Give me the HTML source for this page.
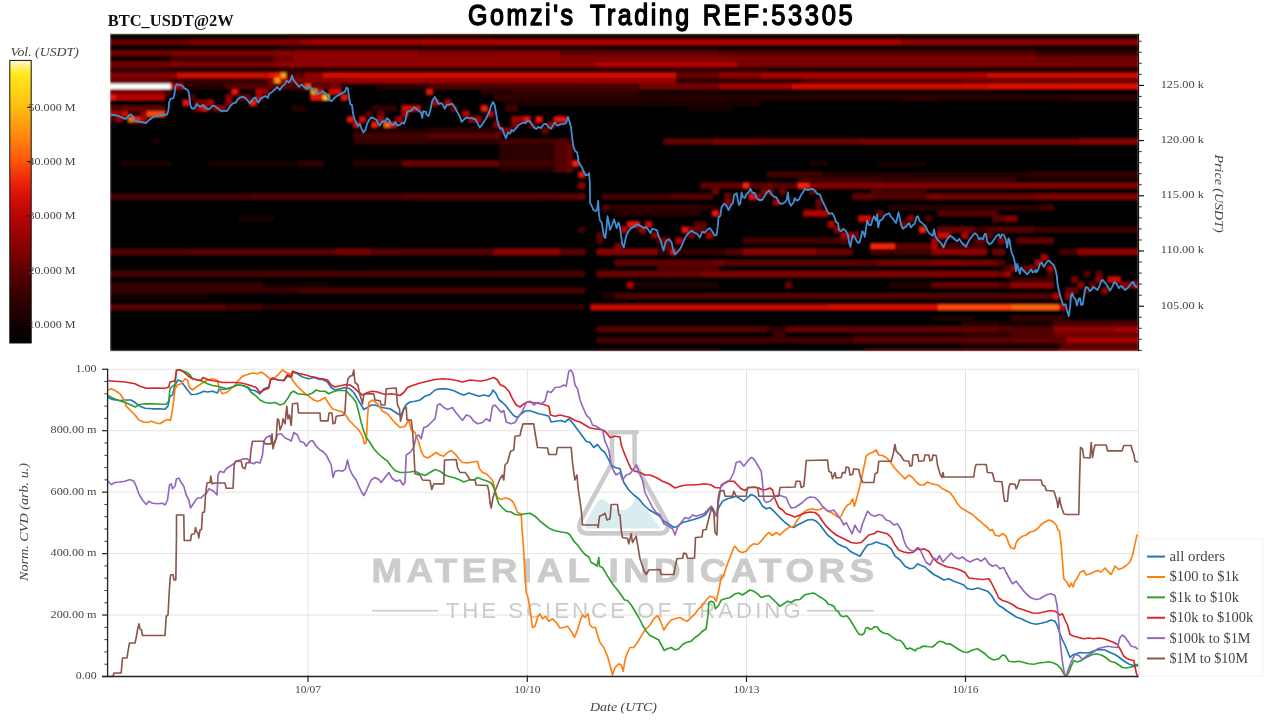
<!DOCTYPE html><html><head><meta charset="utf-8"><title>chart</title>
<style>html,body{margin:0;padding:0;background:#fff;}body{width:1280px;height:720px;overflow:hidden;font-family:"Liberation Serif",serif;}svg{display:block}text{font-family:"Liberation Serif",serif;}text.sans,.sans text{font-family:"Liberation Sans",sans-serif;}</style></head><body>
<svg width="1280" height="720" viewBox="0 0 1280 720" style="opacity:0.9999">
<defs><linearGradient id="cb" x1="0" y1="1" x2="0" y2="0">
<stop offset="0.00" stop-color="#000000"/>
<stop offset="0.06" stop-color="#120000"/>
<stop offset="0.15" stop-color="#300000"/>
<stop offset="0.25" stop-color="#5c0000"/>
<stop offset="0.35" stop-color="#8a0202"/>
<stop offset="0.45" stop-color="#b80606"/>
<stop offset="0.52" stop-color="#d81008"/>
<stop offset="0.58" stop-color="#f02808"/>
<stop offset="0.65" stop-color="#ff5a0a"/>
<stop offset="0.74" stop-color="#ff8c10"/>
<stop offset="0.84" stop-color="#ffc010"/>
<stop offset="0.95" stop-color="#ffe81a"/>
<stop offset="0.98" stop-color="#fff27a"/>
<stop offset="1.00" stop-color="#fffbe0"/>
</linearGradient>
<filter id="hb" x="-1%" y="-1%" width="102%" height="102%"><feGaussianBlur stdDeviation="1.0 0.8"/></filter>
<clipPath id="hc"><rect x="110" y="33.75" width="1028.6" height="317.5"/></clipPath>
<clipPath id="pc"><rect x="107" y="366" width="1033" height="311.5"/></clipPath>
</defs>
<rect width="1280" height="720" fill="#fff"/>
<text x="107.7" y="26" font-size="16.3" font-weight="bold" fill="#111" textLength="126" lengthAdjust="spacingAndGlyphs">BTC_USDT@2W</text>
<text class="sans" x="468.0" y="25" font-size="29.3" letter-spacing="3" fill="#000" stroke="#000" stroke-width="1.45" stroke-linejoin="round" stroke-linecap="round" textLength="107.6" lengthAdjust="spacingAndGlyphs">Gomzi's</text>
<text class="sans" x="590.0" y="25" font-size="29.3" letter-spacing="3" fill="#000" stroke="#000" stroke-width="1.45" stroke-linejoin="round" stroke-linecap="round" textLength="101.8" lengthAdjust="spacingAndGlyphs">Trading</text>
<text class="sans" x="702.8" y="25" font-size="29.3" letter-spacing="3" fill="#000" stroke="#000" stroke-width="1.45" stroke-linejoin="round" stroke-linecap="round" textLength="152.4" lengthAdjust="spacingAndGlyphs">REF:53305</text>
<g clip-path="url(#hc)"><g filter="url(#hb)">
<rect x="110.00" y="33.75" width="1028.60" height="317.50" fill="#000"/>
<rect x="286.49" y="33.70" width="206.97" height="5.75" fill="#1e0000"/>
<rect x="493.42" y="33.70" width="645.17" height="5.75" fill="#070000"/>
<rect x="110.00" y="39.35" width="79.17" height="5.62" fill="#640000"/>
<rect x="189.12" y="39.35" width="109.60" height="5.62" fill="#810000"/>
<rect x="298.67" y="39.35" width="12.22" height="5.62" fill="#920000"/>
<rect x="310.84" y="39.35" width="109.60" height="5.62" fill="#a50300"/>
<rect x="420.39" y="39.35" width="480.84" height="5.62" fill="#b00500"/>
<rect x="901.18" y="39.35" width="133.94" height="5.62" fill="#920000"/>
<rect x="1035.07" y="39.35" width="103.51" height="5.62" fill="#8b0000"/>
<rect x="110.00" y="44.87" width="170.46" height="5.62" fill="#070000"/>
<rect x="280.41" y="44.87" width="219.15" height="5.62" fill="#200000"/>
<rect x="499.50" y="44.87" width="219.15" height="5.62" fill="#180000"/>
<rect x="718.60" y="44.87" width="419.98" height="5.62" fill="#110000"/>
<rect x="110.00" y="50.39" width="60.91" height="5.62" fill="#6a0000"/>
<rect x="170.86" y="50.39" width="103.51" height="5.62" fill="#7e0000"/>
<rect x="274.32" y="50.39" width="18.31" height="5.62" fill="#880000"/>
<rect x="292.58" y="50.39" width="127.86" height="5.62" fill="#8b0000"/>
<rect x="420.39" y="50.39" width="140.03" height="5.62" fill="#810000"/>
<rect x="560.36" y="50.39" width="158.29" height="5.62" fill="#610000"/>
<rect x="718.60" y="50.39" width="316.52" height="5.62" fill="#520000"/>
<rect x="1035.07" y="50.39" width="103.51" height="5.62" fill="#340000"/>
<rect x="110.00" y="55.91" width="60.91" height="5.62" fill="#070000"/>
<rect x="170.86" y="55.91" width="103.51" height="5.62" fill="#460000"/>
<rect x="274.32" y="55.91" width="18.31" height="5.62" fill="#700000"/>
<rect x="292.58" y="55.91" width="267.83" height="5.62" fill="#920000"/>
<rect x="560.36" y="55.91" width="474.76" height="5.62" fill="#810000"/>
<rect x="1035.07" y="55.91" width="103.51" height="5.62" fill="#700000"/>
<rect x="110.00" y="61.43" width="60.91" height="5.62" fill="#700000"/>
<rect x="170.86" y="61.43" width="6.14" height="5.62" fill="#920000"/>
<rect x="176.95" y="61.43" width="97.43" height="5.62" fill="#7a0000"/>
<rect x="274.32" y="61.43" width="322.61" height="5.62" fill="#920000"/>
<rect x="596.88" y="61.43" width="140.03" height="5.62" fill="#b00500"/>
<rect x="736.86" y="61.43" width="334.78" height="5.62" fill="#7a0000"/>
<rect x="1071.59" y="61.43" width="67.00" height="5.62" fill="#770000"/>
<rect x="110.00" y="66.95" width="60.91" height="5.62" fill="#340000"/>
<rect x="170.86" y="66.95" width="109.60" height="5.62" fill="#1e0000"/>
<rect x="280.41" y="66.95" width="140.03" height="5.62" fill="#260000"/>
<rect x="420.39" y="66.95" width="255.66" height="5.62" fill="#2c0000"/>
<rect x="676.00" y="66.95" width="91.34" height="5.62" fill="#340000"/>
<rect x="767.29" y="66.95" width="371.30" height="5.62" fill="#160000"/>
<rect x="110.00" y="72.47" width="60.91" height="5.62" fill="#810000"/>
<rect x="170.86" y="72.47" width="6.14" height="5.62" fill="#920000"/>
<rect x="176.95" y="72.47" width="91.34" height="5.62" fill="#ca0903"/>
<rect x="268.24" y="72.47" width="6.14" height="5.62" fill="#e41208"/>
<rect x="274.32" y="72.47" width="6.14" height="5.62" fill="#f02208"/>
<rect x="280.41" y="72.47" width="6.14" height="5.62" fill="#ff9a10"/>
<rect x="286.49" y="72.47" width="18.31" height="5.62" fill="#520000"/>
<rect x="304.75" y="72.47" width="18.31" height="5.62" fill="#920000"/>
<rect x="323.01" y="72.47" width="353.04" height="5.62" fill="#ca0903"/>
<rect x="676.00" y="72.47" width="42.65" height="5.62" fill="#670000"/>
<rect x="718.60" y="72.47" width="42.65" height="5.62" fill="#920000"/>
<rect x="761.20" y="72.47" width="225.23" height="5.62" fill="#ad0400"/>
<rect x="986.38" y="72.47" width="152.20" height="5.62" fill="#c50802"/>
<rect x="110.00" y="77.99" width="60.91" height="5.62" fill="#6a0000"/>
<rect x="170.86" y="77.99" width="97.43" height="5.62" fill="#3a0000"/>
<rect x="268.24" y="77.99" width="6.14" height="5.62" fill="#920000"/>
<rect x="274.32" y="77.99" width="6.14" height="5.62" fill="#ff9a10"/>
<rect x="280.41" y="77.99" width="6.14" height="5.62" fill="#b80600"/>
<rect x="286.49" y="77.99" width="60.91" height="5.62" fill="#880000"/>
<rect x="347.35" y="77.99" width="6.14" height="5.62" fill="#9a0100"/>
<rect x="353.44" y="77.99" width="73.08" height="5.62" fill="#9d0200"/>
<rect x="426.47" y="77.99" width="249.58" height="5.62" fill="#9a0100"/>
<rect x="676.00" y="77.99" width="127.86" height="5.62" fill="#340000"/>
<rect x="803.80" y="77.99" width="158.29" height="5.62" fill="#5b0000"/>
<rect x="962.04" y="77.99" width="176.54" height="5.62" fill="#700000"/>
<rect x="110.00" y="83.51" width="60.91" height="5.62" fill="#ffffff"/>
<rect x="170.86" y="83.51" width="12.22" height="5.62" fill="#b80600"/>
<rect x="183.03" y="83.51" width="42.65" height="5.62" fill="#260000"/>
<rect x="225.63" y="83.51" width="42.65" height="5.62" fill="#520000"/>
<rect x="268.24" y="83.51" width="6.14" height="5.62" fill="#770000"/>
<rect x="274.32" y="83.51" width="30.48" height="5.62" fill="#520000"/>
<rect x="304.75" y="83.51" width="6.14" height="5.62" fill="#ff4a08"/>
<rect x="310.84" y="83.51" width="18.31" height="5.62" fill="#5b0000"/>
<rect x="329.10" y="83.51" width="12.22" height="5.62" fill="#770000"/>
<rect x="341.27" y="83.51" width="36.57" height="5.62" fill="#110000"/>
<rect x="377.78" y="83.51" width="48.74" height="5.62" fill="#260000"/>
<rect x="426.47" y="83.51" width="158.29" height="5.62" fill="#490000"/>
<rect x="584.71" y="83.51" width="54.82" height="5.62" fill="#4c0000"/>
<rect x="639.48" y="83.51" width="79.17" height="5.62" fill="#770000"/>
<rect x="718.60" y="83.51" width="73.08" height="5.62" fill="#a50300"/>
<rect x="791.63" y="83.51" width="194.80" height="5.62" fill="#ce0a04"/>
<rect x="986.38" y="83.51" width="152.20" height="5.62" fill="#db0f06"/>
<rect x="110.00" y="89.03" width="54.82" height="5.62" fill="#810000"/>
<rect x="164.77" y="89.03" width="6.14" height="5.62" fill="#520000"/>
<rect x="231.72" y="89.03" width="6.14" height="5.62" fill="#e41208"/>
<rect x="256.06" y="89.03" width="6.14" height="5.62" fill="#b80600"/>
<rect x="262.15" y="89.03" width="6.14" height="5.62" fill="#920000"/>
<rect x="310.84" y="89.03" width="6.14" height="5.62" fill="#ff9a10"/>
<rect x="316.92" y="89.03" width="6.14" height="5.62" fill="#ce0a04"/>
<rect x="329.10" y="89.03" width="12.22" height="5.62" fill="#ce0a04"/>
<rect x="426.47" y="89.03" width="6.14" height="5.62" fill="#e41208"/>
<rect x="481.25" y="89.03" width="30.48" height="5.62" fill="#260000"/>
<rect x="511.68" y="89.03" width="127.86" height="5.62" fill="#340000"/>
<rect x="639.48" y="89.03" width="79.17" height="5.62" fill="#180000"/>
<rect x="718.60" y="89.03" width="304.35" height="5.62" fill="#0c0000"/>
<rect x="110.00" y="94.55" width="6.14" height="5.62" fill="#e41208"/>
<rect x="116.09" y="94.55" width="48.74" height="5.62" fill="#b80600"/>
<rect x="189.12" y="94.55" width="6.14" height="5.62" fill="#520000"/>
<rect x="225.63" y="94.55" width="6.14" height="5.62" fill="#920000"/>
<rect x="237.81" y="94.55" width="12.22" height="5.62" fill="#700000"/>
<rect x="256.06" y="94.55" width="6.14" height="5.62" fill="#b80600"/>
<rect x="310.84" y="94.55" width="12.22" height="5.62" fill="#e41208"/>
<rect x="323.01" y="94.55" width="6.14" height="5.62" fill="#ffc820"/>
<rect x="341.27" y="94.55" width="6.14" height="5.62" fill="#e41208"/>
<rect x="493.42" y="94.55" width="24.39" height="5.62" fill="#340000"/>
<rect x="517.76" y="94.55" width="121.77" height="5.62" fill="#2c0000"/>
<rect x="639.48" y="94.55" width="261.75" height="5.62" fill="#260000"/>
<rect x="901.18" y="94.55" width="36.57" height="5.62" fill="#340000"/>
<rect x="937.70" y="94.55" width="127.86" height="5.62" fill="#260000"/>
<rect x="1065.50" y="94.55" width="73.08" height="5.62" fill="#2e0000"/>
<rect x="183.03" y="100.07" width="6.14" height="5.62" fill="#e41208"/>
<rect x="195.20" y="100.07" width="12.22" height="5.62" fill="#810000"/>
<rect x="207.38" y="100.07" width="6.14" height="5.62" fill="#b80600"/>
<rect x="225.63" y="100.07" width="6.14" height="5.62" fill="#920000"/>
<rect x="249.98" y="100.07" width="6.14" height="5.62" fill="#f02208"/>
<rect x="432.56" y="100.07" width="6.14" height="5.62" fill="#b80600"/>
<rect x="444.73" y="100.07" width="6.14" height="5.62" fill="#b80600"/>
<rect x="505.59" y="100.07" width="133.94" height="5.62" fill="#200000"/>
<rect x="639.48" y="100.07" width="121.77" height="5.62" fill="#1e0000"/>
<rect x="110.00" y="105.59" width="12.22" height="5.62" fill="#520000"/>
<rect x="122.17" y="105.59" width="6.14" height="5.62" fill="#700000"/>
<rect x="128.26" y="105.59" width="36.57" height="5.62" fill="#610000"/>
<rect x="195.20" y="105.59" width="6.14" height="5.62" fill="#920000"/>
<rect x="201.29" y="105.59" width="6.14" height="5.62" fill="#e41208"/>
<rect x="213.46" y="105.59" width="12.22" height="5.62" fill="#920000"/>
<rect x="292.58" y="105.59" width="12.22" height="5.62" fill="#260000"/>
<rect x="371.70" y="105.59" width="24.39" height="5.62" fill="#340000"/>
<rect x="402.13" y="105.59" width="18.31" height="5.62" fill="#ce0a04"/>
<rect x="450.82" y="105.59" width="6.14" height="5.62" fill="#700000"/>
<rect x="481.25" y="105.59" width="6.14" height="5.62" fill="#f02208"/>
<rect x="505.59" y="105.59" width="12.22" height="5.62" fill="#430000"/>
<rect x="688.17" y="105.59" width="42.65" height="5.62" fill="#180000"/>
<rect x="110.00" y="111.11" width="12.22" height="5.62" fill="#a50300"/>
<rect x="122.17" y="111.11" width="6.14" height="5.62" fill="#ce0a04"/>
<rect x="128.26" y="111.11" width="12.22" height="5.62" fill="#340000"/>
<rect x="140.43" y="111.11" width="6.14" height="5.62" fill="#920000"/>
<rect x="146.52" y="111.11" width="18.31" height="5.62" fill="#ff4a08"/>
<rect x="365.61" y="111.11" width="6.14" height="5.62" fill="#520000"/>
<rect x="377.78" y="111.11" width="6.14" height="5.62" fill="#700000"/>
<rect x="402.13" y="111.11" width="6.14" height="5.62" fill="#b80600"/>
<rect x="462.99" y="111.11" width="6.14" height="5.62" fill="#b80600"/>
<rect x="487.33" y="111.11" width="6.14" height="5.62" fill="#b80600"/>
<rect x="110.00" y="116.63" width="6.14" height="5.62" fill="#340000"/>
<rect x="116.09" y="116.63" width="6.14" height="5.62" fill="#920000"/>
<rect x="128.26" y="116.63" width="6.14" height="5.62" fill="#ff6a0c"/>
<rect x="134.34" y="116.63" width="6.14" height="5.62" fill="#f02208"/>
<rect x="140.43" y="116.63" width="6.14" height="5.62" fill="#b80600"/>
<rect x="347.35" y="116.63" width="6.14" height="5.62" fill="#e41208"/>
<rect x="359.53" y="116.63" width="6.14" height="5.62" fill="#ce0a04"/>
<rect x="377.78" y="116.63" width="6.14" height="5.62" fill="#b80600"/>
<rect x="396.04" y="116.63" width="6.14" height="5.62" fill="#a50300"/>
<rect x="469.07" y="116.63" width="12.22" height="5.62" fill="#a50300"/>
<rect x="511.68" y="116.63" width="12.22" height="5.62" fill="#a50300"/>
<rect x="523.85" y="116.63" width="6.14" height="5.62" fill="#e41208"/>
<rect x="536.02" y="116.63" width="6.14" height="5.62" fill="#e41208"/>
<rect x="554.28" y="116.63" width="12.22" height="5.62" fill="#e41208"/>
<rect x="140.43" y="122.15" width="6.14" height="5.62" fill="#260000"/>
<rect x="353.44" y="122.15" width="6.14" height="5.62" fill="#ce0a04"/>
<rect x="371.70" y="122.15" width="6.14" height="5.62" fill="#f02208"/>
<rect x="383.87" y="122.15" width="6.14" height="5.62" fill="#ff6a0c"/>
<rect x="389.96" y="122.15" width="6.14" height="5.62" fill="#e41208"/>
<rect x="493.42" y="122.15" width="6.14" height="5.62" fill="#920000"/>
<rect x="511.68" y="122.15" width="6.14" height="5.62" fill="#810000"/>
<rect x="529.93" y="122.15" width="6.14" height="5.62" fill="#700000"/>
<rect x="548.19" y="122.15" width="6.14" height="5.62" fill="#a50300"/>
<rect x="353.44" y="127.67" width="73.08" height="5.62" fill="#1e0000"/>
<rect x="426.47" y="127.67" width="73.08" height="5.62" fill="#260000"/>
<rect x="499.50" y="127.67" width="12.22" height="5.62" fill="#810000"/>
<rect x="542.11" y="127.67" width="6.14" height="5.62" fill="#700000"/>
<rect x="353.44" y="133.19" width="73.08" height="5.62" fill="#430000"/>
<rect x="426.47" y="133.19" width="67.00" height="5.62" fill="#5b0000"/>
<rect x="493.42" y="133.19" width="6.14" height="5.62" fill="#700000"/>
<rect x="152.60" y="138.71" width="6.14" height="5.62" fill="#1e0000"/>
<rect x="353.44" y="138.71" width="73.08" height="5.62" fill="#340000"/>
<rect x="426.47" y="138.71" width="73.08" height="5.62" fill="#2e0000"/>
<rect x="499.50" y="138.71" width="54.82" height="5.62" fill="#430000"/>
<rect x="554.28" y="138.71" width="12.22" height="5.62" fill="#520000"/>
<rect x="566.45" y="138.71" width="6.14" height="5.62" fill="#430000"/>
<rect x="663.83" y="138.71" width="48.74" height="5.62" fill="#610000"/>
<rect x="712.51" y="138.71" width="48.74" height="5.62" fill="#770000"/>
<rect x="761.20" y="138.71" width="97.43" height="5.62" fill="#6a0000"/>
<rect x="858.58" y="138.71" width="219.15" height="5.62" fill="#770000"/>
<rect x="1077.67" y="138.71" width="60.91" height="5.62" fill="#840000"/>
<rect x="499.50" y="144.23" width="54.82" height="5.62" fill="#2e0000"/>
<rect x="554.28" y="144.23" width="12.22" height="5.62" fill="#520000"/>
<rect x="566.45" y="144.23" width="6.14" height="5.62" fill="#700000"/>
<rect x="499.50" y="149.75" width="54.82" height="5.62" fill="#2e0000"/>
<rect x="554.28" y="149.75" width="12.22" height="5.62" fill="#520000"/>
<rect x="566.45" y="149.75" width="6.14" height="5.62" fill="#700000"/>
<rect x="499.50" y="155.27" width="54.82" height="5.62" fill="#2e0000"/>
<rect x="554.28" y="155.27" width="12.22" height="5.62" fill="#520000"/>
<rect x="566.45" y="155.27" width="6.14" height="5.62" fill="#700000"/>
<rect x="122.17" y="160.79" width="48.74" height="5.62" fill="#1e0000"/>
<rect x="207.38" y="160.79" width="91.34" height="5.62" fill="#180000"/>
<rect x="298.67" y="160.79" width="24.39" height="5.62" fill="#2e0000"/>
<rect x="353.44" y="160.79" width="48.74" height="5.62" fill="#260000"/>
<rect x="402.13" y="160.79" width="97.43" height="5.62" fill="#6a0000"/>
<rect x="499.50" y="160.79" width="54.82" height="5.62" fill="#430000"/>
<rect x="554.28" y="160.79" width="12.22" height="5.62" fill="#520000"/>
<rect x="566.45" y="160.79" width="6.14" height="5.62" fill="#700000"/>
<rect x="572.54" y="160.79" width="6.14" height="5.62" fill="#f02208"/>
<rect x="809.89" y="160.79" width="18.31" height="5.62" fill="#1e0000"/>
<rect x="876.84" y="160.79" width="48.74" height="5.62" fill="#180000"/>
<rect x="499.50" y="166.31" width="54.82" height="5.62" fill="#260000"/>
<rect x="554.28" y="166.31" width="12.22" height="5.62" fill="#520000"/>
<rect x="566.45" y="166.31" width="6.14" height="5.62" fill="#700000"/>
<rect x="578.62" y="171.83" width="6.14" height="5.62" fill="#e41208"/>
<rect x="767.29" y="171.83" width="54.82" height="5.62" fill="#430000"/>
<rect x="822.06" y="171.83" width="206.97" height="5.62" fill="#200000"/>
<rect x="1028.99" y="171.83" width="109.60" height="5.62" fill="#340000"/>
<rect x="797.72" y="177.35" width="85.25" height="5.62" fill="#430000"/>
<rect x="882.92" y="177.35" width="133.94" height="5.62" fill="#340000"/>
<rect x="1016.81" y="177.35" width="121.77" height="5.62" fill="#130000"/>
<rect x="578.62" y="182.87" width="6.14" height="5.62" fill="#920000"/>
<rect x="700.34" y="182.87" width="42.65" height="5.62" fill="#610000"/>
<rect x="742.94" y="182.87" width="6.14" height="5.62" fill="#f02208"/>
<rect x="749.03" y="182.87" width="18.31" height="5.62" fill="#520000"/>
<rect x="767.29" y="182.87" width="6.14" height="5.62" fill="#700000"/>
<rect x="773.37" y="182.87" width="24.39" height="5.62" fill="#520000"/>
<rect x="797.72" y="182.87" width="12.22" height="5.62" fill="#f02208"/>
<rect x="809.89" y="182.87" width="328.69" height="5.62" fill="#810000"/>
<rect x="712.51" y="188.39" width="6.14" height="5.62" fill="#700000"/>
<rect x="761.20" y="188.39" width="12.22" height="5.62" fill="#810000"/>
<rect x="779.46" y="188.39" width="6.14" height="5.62" fill="#700000"/>
<rect x="809.89" y="188.39" width="6.14" height="5.62" fill="#700000"/>
<rect x="870.75" y="188.39" width="12.22" height="5.62" fill="#520000"/>
<rect x="882.92" y="188.39" width="42.65" height="5.62" fill="#430000"/>
<rect x="110.00" y="193.91" width="140.03" height="5.62" fill="#430000"/>
<rect x="249.98" y="193.91" width="152.20" height="5.62" fill="#4c0000"/>
<rect x="402.13" y="193.91" width="152.20" height="5.62" fill="#580000"/>
<rect x="554.28" y="193.91" width="24.39" height="5.62" fill="#5b0000"/>
<rect x="578.62" y="193.91" width="6.14" height="5.62" fill="#700000"/>
<rect x="602.97" y="193.91" width="67.00" height="5.62" fill="#430000"/>
<rect x="669.91" y="193.91" width="42.65" height="5.62" fill="#520000"/>
<rect x="724.69" y="193.91" width="6.14" height="5.62" fill="#700000"/>
<rect x="749.03" y="193.91" width="6.14" height="5.62" fill="#e41208"/>
<rect x="755.12" y="193.91" width="6.14" height="5.62" fill="#920000"/>
<rect x="852.49" y="193.91" width="24.39" height="5.62" fill="#610000"/>
<rect x="876.84" y="193.91" width="48.74" height="5.62" fill="#520000"/>
<rect x="925.52" y="193.91" width="6.14" height="5.62" fill="#700000"/>
<rect x="931.61" y="193.91" width="12.22" height="5.62" fill="#810000"/>
<rect x="943.78" y="193.91" width="91.34" height="5.62" fill="#700000"/>
<rect x="1035.07" y="193.91" width="103.51" height="5.62" fill="#810000"/>
<rect x="724.69" y="199.43" width="6.14" height="5.62" fill="#920000"/>
<rect x="773.37" y="199.43" width="6.14" height="5.62" fill="#a50300"/>
<rect x="815.98" y="199.43" width="6.14" height="5.62" fill="#700000"/>
<rect x="602.97" y="204.95" width="6.14" height="5.62" fill="#520000"/>
<rect x="609.05" y="204.95" width="6.14" height="5.62" fill="#260000"/>
<rect x="615.14" y="204.95" width="85.25" height="5.62" fill="#340000"/>
<rect x="700.34" y="204.95" width="18.31" height="5.62" fill="#260000"/>
<rect x="815.98" y="204.95" width="6.14" height="5.62" fill="#520000"/>
<rect x="889.01" y="204.95" width="146.11" height="5.62" fill="#2c0000"/>
<rect x="1035.07" y="204.95" width="6.14" height="5.62" fill="#290000"/>
<rect x="1041.16" y="204.95" width="12.22" height="5.62" fill="#430000"/>
<rect x="615.14" y="210.47" width="85.25" height="5.62" fill="#260000"/>
<rect x="712.51" y="210.47" width="6.14" height="5.62" fill="#e41208"/>
<rect x="803.80" y="210.47" width="24.39" height="5.62" fill="#b80600"/>
<rect x="876.84" y="210.47" width="6.14" height="5.62" fill="#700000"/>
<rect x="937.70" y="210.47" width="60.91" height="5.62" fill="#520000"/>
<rect x="237.81" y="215.99" width="36.57" height="5.62" fill="#180000"/>
<rect x="858.58" y="215.99" width="12.22" height="5.62" fill="#ce0a04"/>
<rect x="907.27" y="215.99" width="6.14" height="5.62" fill="#920000"/>
<rect x="925.52" y="215.99" width="6.14" height="5.62" fill="#520000"/>
<rect x="992.47" y="215.99" width="12.22" height="5.62" fill="#610000"/>
<rect x="1004.64" y="215.99" width="12.22" height="5.62" fill="#810000"/>
<rect x="627.31" y="221.51" width="12.22" height="5.62" fill="#e41208"/>
<rect x="645.57" y="221.51" width="6.14" height="5.62" fill="#ce0a04"/>
<rect x="694.26" y="221.51" width="12.22" height="5.62" fill="#520000"/>
<rect x="828.15" y="221.51" width="6.14" height="5.62" fill="#b80600"/>
<rect x="901.18" y="221.51" width="6.14" height="5.62" fill="#810000"/>
<rect x="578.62" y="227.03" width="6.14" height="5.62" fill="#430000"/>
<rect x="621.22" y="227.03" width="6.14" height="5.62" fill="#b80600"/>
<rect x="639.48" y="227.03" width="6.14" height="5.62" fill="#a50300"/>
<rect x="682.08" y="227.03" width="6.14" height="5.62" fill="#e41208"/>
<rect x="688.17" y="227.03" width="18.31" height="5.62" fill="#700000"/>
<rect x="834.23" y="227.03" width="6.14" height="5.62" fill="#920000"/>
<rect x="919.44" y="227.03" width="6.14" height="5.62" fill="#f02208"/>
<rect x="937.70" y="227.03" width="36.57" height="5.62" fill="#700000"/>
<rect x="974.21" y="227.03" width="12.22" height="5.62" fill="#3a0000"/>
<rect x="986.38" y="227.03" width="48.74" height="5.62" fill="#520000"/>
<rect x="1035.07" y="227.03" width="103.51" height="5.62" fill="#3a0000"/>
<rect x="596.88" y="232.55" width="6.14" height="5.62" fill="#610000"/>
<rect x="651.65" y="232.55" width="6.14" height="5.62" fill="#920000"/>
<rect x="688.17" y="232.55" width="6.14" height="5.62" fill="#700000"/>
<rect x="706.43" y="232.55" width="6.14" height="5.62" fill="#b80600"/>
<rect x="840.32" y="232.55" width="12.22" height="5.62" fill="#a50300"/>
<rect x="852.49" y="232.55" width="6.14" height="5.62" fill="#810000"/>
<rect x="937.70" y="232.55" width="12.22" height="5.62" fill="#ce0a04"/>
<rect x="962.04" y="232.55" width="6.14" height="5.62" fill="#b80600"/>
<rect x="986.38" y="232.55" width="6.14" height="5.62" fill="#610000"/>
<rect x="596.88" y="238.07" width="6.14" height="5.62" fill="#520000"/>
<rect x="657.74" y="238.07" width="6.14" height="5.62" fill="#700000"/>
<rect x="663.83" y="238.07" width="6.14" height="5.62" fill="#810000"/>
<rect x="676.00" y="238.07" width="6.14" height="5.62" fill="#b80600"/>
<rect x="742.94" y="238.07" width="97.43" height="5.62" fill="#430000"/>
<rect x="840.32" y="238.07" width="6.14" height="5.62" fill="#610000"/>
<rect x="846.41" y="238.07" width="6.14" height="5.62" fill="#430000"/>
<rect x="931.61" y="238.07" width="6.14" height="5.62" fill="#a50300"/>
<rect x="974.21" y="238.07" width="12.22" height="5.62" fill="#610000"/>
<rect x="998.56" y="238.07" width="6.14" height="5.62" fill="#920000"/>
<rect x="1016.81" y="238.07" width="36.57" height="5.62" fill="#610000"/>
<rect x="615.14" y="243.59" width="6.14" height="5.62" fill="#810000"/>
<rect x="663.83" y="243.59" width="6.14" height="5.62" fill="#610000"/>
<rect x="870.75" y="243.59" width="24.39" height="5.62" fill="#f02208"/>
<rect x="895.09" y="243.59" width="36.57" height="5.62" fill="#610000"/>
<rect x="931.61" y="243.59" width="6.14" height="5.62" fill="#b80600"/>
<rect x="937.70" y="243.59" width="48.74" height="5.62" fill="#430000"/>
<rect x="110.00" y="249.11" width="79.17" height="5.62" fill="#520000"/>
<rect x="189.12" y="249.11" width="146.11" height="5.62" fill="#5b0000"/>
<rect x="335.18" y="249.11" width="36.57" height="5.62" fill="#770000"/>
<rect x="371.70" y="249.11" width="30.48" height="5.62" fill="#5b0000"/>
<rect x="402.13" y="249.11" width="91.34" height="5.62" fill="#580000"/>
<rect x="493.42" y="249.11" width="67.00" height="5.62" fill="#920000"/>
<rect x="560.36" y="249.11" width="18.31" height="5.62" fill="#5b0000"/>
<rect x="578.62" y="249.11" width="6.14" height="5.62" fill="#610000"/>
<rect x="596.88" y="249.11" width="60.91" height="5.62" fill="#880000"/>
<rect x="657.74" y="249.11" width="12.22" height="5.62" fill="#340000"/>
<rect x="669.91" y="249.11" width="6.14" height="5.62" fill="#ce0a04"/>
<rect x="676.00" y="249.11" width="48.74" height="5.62" fill="#340000"/>
<rect x="724.69" y="249.11" width="18.31" height="5.62" fill="#520000"/>
<rect x="742.94" y="249.11" width="73.08" height="5.62" fill="#920000"/>
<rect x="815.98" y="249.11" width="36.57" height="5.62" fill="#700000"/>
<rect x="870.75" y="249.11" width="60.91" height="5.62" fill="#430000"/>
<rect x="931.61" y="249.11" width="54.82" height="5.62" fill="#920000"/>
<rect x="992.47" y="249.11" width="12.22" height="5.62" fill="#700000"/>
<rect x="1059.42" y="249.11" width="18.31" height="5.62" fill="#430000"/>
<rect x="1077.67" y="249.11" width="60.91" height="5.62" fill="#920000"/>
<rect x="1041.16" y="254.63" width="6.14" height="5.62" fill="#b80600"/>
<rect x="615.14" y="260.15" width="97.43" height="5.62" fill="#610000"/>
<rect x="712.51" y="260.15" width="12.22" height="5.62" fill="#700000"/>
<rect x="724.69" y="260.15" width="152.20" height="5.62" fill="#580000"/>
<rect x="876.84" y="260.15" width="54.82" height="5.62" fill="#700000"/>
<rect x="931.61" y="260.15" width="30.48" height="5.62" fill="#810000"/>
<rect x="962.04" y="260.15" width="36.57" height="5.62" fill="#700000"/>
<rect x="998.56" y="260.15" width="6.14" height="5.62" fill="#520000"/>
<rect x="1035.07" y="260.15" width="6.14" height="5.62" fill="#b80600"/>
<rect x="657.74" y="265.67" width="60.91" height="5.62" fill="#520000"/>
<rect x="1004.64" y="265.67" width="6.14" height="5.62" fill="#520000"/>
<rect x="1010.73" y="265.67" width="6.14" height="5.62" fill="#920000"/>
<rect x="1022.90" y="265.67" width="12.22" height="5.62" fill="#700000"/>
<rect x="1047.24" y="265.67" width="6.14" height="5.62" fill="#a50300"/>
<rect x="110.00" y="271.19" width="474.76" height="5.62" fill="#460000"/>
<rect x="596.88" y="271.19" width="103.51" height="5.62" fill="#6a0000"/>
<rect x="700.34" y="271.19" width="298.26" height="5.62" fill="#810000"/>
<rect x="998.56" y="271.19" width="6.14" height="5.62" fill="#700000"/>
<rect x="1004.64" y="271.19" width="6.14" height="5.62" fill="#a50300"/>
<rect x="1047.24" y="271.19" width="6.14" height="5.62" fill="#520000"/>
<rect x="1083.76" y="271.19" width="6.14" height="5.62" fill="#520000"/>
<rect x="1095.93" y="271.19" width="6.14" height="5.62" fill="#610000"/>
<rect x="1010.73" y="276.71" width="42.65" height="5.62" fill="#340000"/>
<rect x="1071.59" y="276.71" width="6.14" height="5.62" fill="#810000"/>
<rect x="1095.93" y="276.71" width="6.14" height="5.62" fill="#920000"/>
<rect x="1108.10" y="276.71" width="12.22" height="5.62" fill="#ce0a04"/>
<rect x="110.00" y="282.23" width="152.20" height="5.62" fill="#340000"/>
<rect x="262.15" y="282.23" width="67.00" height="5.62" fill="#130000"/>
<rect x="627.31" y="282.23" width="6.14" height="5.62" fill="#b80600"/>
<rect x="633.40" y="282.23" width="85.25" height="5.62" fill="#1e0000"/>
<rect x="785.55" y="282.23" width="6.14" height="5.62" fill="#700000"/>
<rect x="889.01" y="282.23" width="42.65" height="5.62" fill="#230000"/>
<rect x="931.61" y="282.23" width="67.00" height="5.62" fill="#640000"/>
<rect x="998.56" y="282.23" width="12.22" height="5.62" fill="#520000"/>
<rect x="1010.73" y="282.23" width="42.65" height="5.62" fill="#920000"/>
<rect x="1077.67" y="282.23" width="6.14" height="5.62" fill="#920000"/>
<rect x="1089.85" y="282.23" width="6.14" height="5.62" fill="#700000"/>
<rect x="1120.28" y="282.23" width="12.22" height="5.62" fill="#920000"/>
<rect x="1132.45" y="282.23" width="6.14" height="5.62" fill="#a50300"/>
<rect x="110.00" y="287.75" width="188.72" height="5.62" fill="#340000"/>
<rect x="298.67" y="287.75" width="286.09" height="5.62" fill="#460000"/>
<rect x="1065.50" y="287.75" width="12.22" height="5.62" fill="#700000"/>
<rect x="1083.76" y="287.75" width="6.14" height="5.62" fill="#520000"/>
<rect x="1102.02" y="287.75" width="6.14" height="5.62" fill="#920000"/>
<rect x="110.00" y="293.27" width="97.43" height="5.62" fill="#180000"/>
<rect x="602.97" y="293.27" width="12.22" height="5.62" fill="#260000"/>
<rect x="615.14" y="293.27" width="85.25" height="5.62" fill="#4c0000"/>
<rect x="700.34" y="293.27" width="353.04" height="5.62" fill="#520000"/>
<rect x="1053.33" y="293.27" width="6.14" height="5.62" fill="#b80600"/>
<rect x="1065.50" y="293.27" width="6.14" height="5.62" fill="#a50300"/>
<rect x="110.00" y="304.31" width="115.68" height="5.62" fill="#580000"/>
<rect x="225.63" y="304.31" width="36.57" height="5.62" fill="#430000"/>
<rect x="262.15" y="304.31" width="322.61" height="5.62" fill="#2e0000"/>
<rect x="590.79" y="304.31" width="237.40" height="5.62" fill="#c10802"/>
<rect x="828.15" y="304.31" width="109.60" height="5.62" fill="#d20c05"/>
<rect x="937.70" y="304.31" width="73.08" height="5.62" fill="#ff4a08"/>
<rect x="1010.73" y="304.31" width="48.74" height="5.62" fill="#ff640b"/>
<rect x="1059.42" y="304.31" width="6.14" height="5.62" fill="#b80600"/>
<rect x="931.61" y="315.35" width="42.65" height="5.62" fill="#180000"/>
<rect x="1010.73" y="315.35" width="54.82" height="5.62" fill="#340000"/>
<rect x="962.04" y="320.87" width="36.57" height="5.62" fill="#260000"/>
<rect x="998.56" y="320.87" width="54.82" height="5.62" fill="#180000"/>
<rect x="1053.33" y="320.87" width="85.25" height="5.62" fill="#4c0000"/>
<rect x="596.88" y="326.39" width="170.46" height="5.62" fill="#520000"/>
<rect x="767.29" y="326.39" width="18.31" height="5.62" fill="#340000"/>
<rect x="785.55" y="326.39" width="213.06" height="5.62" fill="#610000"/>
<rect x="998.56" y="326.39" width="54.82" height="5.62" fill="#520000"/>
<rect x="1053.33" y="326.39" width="60.91" height="5.62" fill="#920000"/>
<rect x="1114.19" y="326.39" width="24.39" height="5.62" fill="#a50300"/>
<rect x="773.37" y="331.91" width="12.22" height="5.62" fill="#430000"/>
<rect x="852.49" y="331.91" width="109.60" height="5.62" fill="#230000"/>
<rect x="962.04" y="331.91" width="48.74" height="5.62" fill="#340000"/>
<rect x="1010.73" y="331.91" width="42.65" height="5.62" fill="#520000"/>
<rect x="1053.33" y="331.91" width="85.25" height="5.62" fill="#700000"/>
<rect x="596.88" y="337.43" width="255.66" height="5.62" fill="#430000"/>
<rect x="852.49" y="337.43" width="158.29" height="5.62" fill="#5b0000"/>
<rect x="1010.73" y="337.43" width="54.82" height="5.62" fill="#610000"/>
<rect x="1065.50" y="337.43" width="73.08" height="5.62" fill="#a50300"/>
<rect x="962.04" y="342.95" width="97.43" height="5.62" fill="#180000"/>
<rect x="1059.42" y="342.95" width="79.17" height="5.62" fill="#520000"/>
<rect x="596.88" y="348.47" width="121.77" height="2.83" fill="#260000"/>
<rect x="864.66" y="348.47" width="97.43" height="2.83" fill="#490000"/>
<rect x="962.04" y="348.47" width="97.43" height="2.83" fill="#520000"/>
<rect x="1059.42" y="348.47" width="79.17" height="2.83" fill="#810000"/>
</g>
<path d="M107.9,113.8 L110.0,114.4 L113.5,115.0 L117.2,115.6 L121.0,117.2 L124.8,118.8 L127.2,117.8 L129.1,115.0 L131.0,114.4 L132.9,116.9 L134.8,120.6 L137.2,121.5 L140.4,121.9 L143.5,122.5 L146.0,123.1 L148.5,120.6 L151.0,118.8 L152.9,116.9 L156.0,116.2 L159.8,115.6 L163.5,115.0 L167.2,114.4 L168.5,110.0 L169.1,102.5 L170.4,98.8 L173.5,98.1 L174.5,93.8 L175.4,86.9 L176.6,84.4 L179.8,84.8 L182.2,85.6 L184.1,88.1 L186.6,89.4 L188.5,91.2 L189.5,97.5 L190.4,105.0 L191.6,108.1 L193.5,108.8 L195.4,106.9 L196.6,103.8 L198.5,105.6 L200.4,106.9 L202.9,105.0 L205.4,107.5 L207.9,109.4 L209.8,108.8 L212.2,106.2 L214.1,105.6 L216.6,107.5 L219.1,109.4 L221.6,111.2 L224.1,110.6 L226.6,111.2 L229.1,108.1 L231.0,105.0 L233.5,103.1 L236.0,102.5 L237.2,100.0 L239.8,97.5 L242.2,96.9 L244.8,97.5 L247.2,100.0 L249.8,103.1 L251.6,101.2 L253.5,98.1 L255.4,97.5 L257.2,101.2 L258.5,102.5 L260.4,98.8 L263.5,96.9 L266.0,96.2 L266.0,96.2 L267.9,98.1 L269.1,93.8 L272.2,91.9 L275.4,88.8 L277.2,86.9 L279.8,90.0 L282.2,86.2 L284.8,84.4 L286.6,80.6 L289.1,82.5 L291.0,79.4 L292.0,75.6 L293.5,80.0 L296.0,83.1 L299.1,86.9 L301.6,84.4 L304.1,86.9 L307.2,88.8 L309.8,86.9 L312.9,89.4 L315.4,91.9 L317.9,93.8 L320.4,93.1 L322.9,91.2 L326.0,93.8 L327.9,98.1 L329.8,100.0 L331.6,101.2 L334.1,98.1 L336.6,96.2 L339.8,94.4 L342.2,93.1 L344.8,91.9 L346.6,87.5 L347.9,88.8 L349.1,97.5 L350.4,104.4 L352.0,105.0 L352.9,112.5 L354.1,118.1 L356.0,122.5 L357.9,126.2 L359.8,123.8 L361.6,128.8 L363.5,132.5 L365.4,130.0 L367.2,123.8 L369.1,120.0 L371.0,117.5 L373.5,118.1 L376.6,120.0 L378.5,123.8 L379.8,125.6 L382.2,121.2 L384.8,121.9 L387.2,118.1 L389.1,120.0 L391.0,123.8 L393.5,125.0 L395.4,121.9 L397.2,125.6 L399.8,125.0 L402.2,122.5 L404.1,123.8 L406.0,118.1 L407.2,111.9 L409.8,111.2 L411.6,110.6 L414.1,107.5 L416.6,108.8 L419.1,111.2 L421.0,112.5 L422.2,118.1 L423.2,111.2 L426.0,111.9 L426.0,113.8 L428.5,116.2 L430.4,110.0 L432.2,101.2 L434.8,96.9 L436.6,100.0 L438.5,103.8 L441.6,103.1 L443.5,106.2 L444.8,108.8 L446.6,105.0 L449.8,104.4 L452.2,103.8 L454.8,107.5 L457.2,111.9 L459.8,116.2 L461.6,121.9 L463.5,120.0 L466.6,117.5 L469.1,118.1 L472.2,118.1 L475.4,119.4 L477.9,123.8 L479.8,127.5 L482.2,124.4 L484.8,120.6 L487.2,116.2 L489.1,112.5 L491.0,106.2 L492.9,101.9 L494.5,104.4 L496.0,112.5 L497.2,120.0 L498.5,125.0 L500.4,128.8 L502.2,128.1 L504.1,133.8 L506.0,138.1 L507.9,132.5 L509.8,133.8 L511.6,130.0 L513.5,131.2 L516.0,128.1 L518.5,125.0 L521.0,123.8 L523.5,122.5 L525.4,123.1 L527.2,121.2 L529.8,121.2 L532.2,125.0 L534.8,128.1 L536.6,128.8 L538.5,126.9 L541.0,128.1 L543.5,124.4 L546.0,123.8 L549.1,127.5 L551.0,128.8 L552.9,125.6 L554.8,122.5 L557.2,125.6 L560.4,124.4 L563.5,123.8 L566.0,123.1 L567.9,116.9 L569.8,122.5 L571.0,127.5 L572.2,137.5 L573.5,147.5 L575.4,151.2 L577.2,152.5 L578.5,160.0 L577.9,160.0 L579.8,164.4 L581.6,166.9 L583.5,171.2 L585.4,175.0 L587.9,175.0 L589.1,173.1 L589.8,182.5 L590.0,192.5 L590.0,202.5 L591.6,205.6 L593.5,210.0 L596.0,211.2 L597.2,208.8 L598.2,200.6 L598.8,212.5 L599.8,220.0 L601.6,222.5 L602.9,230.0 L604.1,236.2 L605.4,238.1 L606.6,227.5 L607.5,216.2 L608.8,222.5 L610.0,230.0 L612.2,225.0 L614.1,219.4 L615.4,223.8 L616.6,228.1 L618.5,222.5 L619.8,226.2 L621.0,235.0 L622.2,243.8 L623.8,247.5 L625.0,241.2 L626.6,235.0 L628.5,231.2 L631.0,228.1 L633.5,226.9 L636.0,225.0 L638.5,224.4 L641.0,226.2 L644.1,228.1 L646.0,226.9 L648.5,230.0 L650.4,233.1 L652.2,228.8 L654.8,229.4 L657.2,230.6 L658.5,236.2 L661.0,241.2 L662.2,246.2 L663.5,250.6 L665.4,242.5 L667.2,240.0 L669.1,239.4 L671.6,242.5 L672.9,248.8 L674.8,254.4 L677.2,252.5 L679.8,249.4 L681.6,246.2 L683.5,241.2 L686.0,236.2 L688.5,233.1 L691.6,230.6 L694.1,232.5 L697.2,233.8 L699.8,237.5 L702.2,231.9 L704.8,232.5 L707.2,230.0 L709.8,228.1 L712.2,231.2 L714.8,235.6 L716.6,235.0 L717.9,225.0 L718.5,217.5 L720.4,215.6 L721.6,206.9 L724.1,203.8 L726.0,205.0 L728.5,210.0 L731.0,205.0 L732.9,203.1 L734.1,195.0 L736.0,193.8 L736.6,193.1 L737.9,200.0 L739.1,205.0 L740.4,203.1 L741.6,192.5 L742.9,196.9 L744.8,198.1 L746.6,193.8 L748.5,192.5 L750.4,188.8 L752.2,192.5 L754.8,193.1 L756.6,198.1 L759.1,200.0 L762.2,200.0 L764.8,195.6 L767.2,191.9 L769.1,190.6 L771.6,194.4 L774.1,196.9 L776.6,197.5 L779.1,203.1 L781.6,203.8 L784.8,202.5 L786.6,200.0 L787.9,192.5 L789.1,201.9 L791.0,205.6 L793.5,202.5 L794.8,198.1 L796.6,200.6 L799.1,199.4 L801.0,195.0 L802.9,192.5 L804.8,188.8 L807.2,190.0 L809.8,189.4 L812.2,188.8 L814.8,190.6 L817.2,193.8 L819.8,194.4 L822.2,200.6 L824.8,205.6 L827.2,211.2 L829.1,213.8 L832.2,213.1 L834.1,216.2 L836.0,221.9 L837.9,223.1 L839.1,230.0 L841.0,231.2 L843.5,228.8 L846.0,231.2 L847.9,235.0 L849.1,242.5 L850.4,246.9 L851.6,240.0 L852.9,235.0 L854.8,237.5 L857.2,241.9 L859.1,243.1 L861.0,237.5 L862.2,231.2 L863.5,232.5 L864.8,236.9 L866.0,228.8 L867.2,220.6 L869.1,225.0 L871.0,225.0 L872.9,218.8 L874.1,216.2 L876.0,220.6 L877.2,214.4 L878.2,227.5 L879.8,220.6 L882.2,219.4 L884.1,216.2 L886.0,214.4 L887.2,214.4 L889.1,213.1 L891.0,216.9 L892.9,218.8 L894.8,221.2 L896.0,223.1 L897.5,216.9 L898.5,212.5 L899.8,218.1 L901.0,224.4 L902.9,228.8 L905.4,226.9 L907.9,224.4 L909.1,223.1 L911.0,227.5 L912.9,225.0 L914.8,223.8 L916.6,216.9 L917.9,216.2 L919.8,221.2 L922.2,223.1 L925.4,226.2 L927.2,230.0 L929.1,233.1 L931.6,235.0 L932.9,235.6 L934.1,229.4 L935.4,236.2 L937.2,239.4 L939.1,241.2 L941.6,243.8 L943.5,247.5 L945.4,242.5 L947.9,238.1 L950.4,235.6 L952.9,237.5 L955.4,240.0 L957.2,241.2 L959.1,238.8 L961.6,242.5 L964.1,245.0 L966.0,246.9 L967.9,242.5 L969.8,239.4 L972.2,236.2 L974.8,233.1 L977.2,235.0 L979.1,239.4 L981.0,238.1 L982.9,239.4 L984.8,233.8 L986.0,234.4 L987.2,241.2 L989.1,244.4 L991.6,243.1 L994.1,239.4 L996.6,235.6 L999.1,234.4 L1000.4,238.1 L1002.2,234.4 L1004.1,235.0 L1006.0,240.0 L1007.2,247.5 L1008.5,238.1 L1009.5,240.0 L1010.4,246.2 L1011.6,252.5 L1013.5,256.9 L1014.8,262.5 L1016.0,271.2 L1017.2,263.8 L1018.5,268.8 L1019.8,273.8 L1021.0,267.5 L1022.9,270.0 L1025.4,272.5 L1027.2,274.4 L1029.8,271.2 L1031.0,269.4 L1032.9,272.5 L1034.8,271.2 L1036.0,270.0 L1036.2,272.5 L1038.1,270.0 L1040.0,263.8 L1041.9,262.5 L1043.8,266.9 L1045.6,263.8 L1047.5,261.2 L1049.4,260.6 L1051.2,263.1 L1053.8,265.0 L1055.6,270.0 L1056.9,276.2 L1057.5,283.8 L1058.8,290.0 L1060.0,295.0 L1061.9,301.2 L1063.1,305.0 L1065.6,304.4 L1066.9,310.0 L1068.8,316.2 L1070.0,307.5 L1071.0,296.2 L1072.2,293.1 L1073.8,297.5 L1075.6,299.4 L1076.9,305.6 L1078.8,298.8 L1080.0,298.1 L1081.2,305.0 L1082.8,304.4 L1083.8,297.5 L1085.0,290.0 L1086.2,286.9 L1088.1,288.1 L1090.0,291.2 L1091.9,289.4 L1093.1,286.9 L1095.0,288.1 L1097.5,290.0 L1099.4,286.2 L1101.2,281.2 L1102.5,280.0 L1105.0,282.5 L1107.5,286.2 L1110.0,290.6 L1111.9,287.5 L1114.4,281.9 L1116.9,284.4 L1118.8,288.1 L1120.6,286.2 L1122.5,286.9 L1125.0,290.0 L1127.5,288.1 L1130.0,285.0 L1131.9,282.5 L1133.1,281.9 L1135.0,286.2 L1136.9,286.9" fill="none" stroke="#3f8fd2" stroke-width="1.8" stroke-linejoin="round" stroke-linecap="round"/>
</g>
<rect x="110" y="33.1" width="1028.6" height="0.9" fill="#e6dcb4"/>
<line x1="1138.6" y1="33.75" x2="1138.6" y2="351.25" stroke="#000" stroke-width="1"/>
<line x1="1138.6" y1="350.36" x2="1141.80" y2="350.36" stroke="#000" stroke-width="0.8"/>
<line x1="1138.6" y1="339.32" x2="1141.80" y2="339.32" stroke="#000" stroke-width="0.8"/>
<line x1="1138.6" y1="328.28" x2="1141.80" y2="328.28" stroke="#000" stroke-width="0.8"/>
<line x1="1138.6" y1="317.24" x2="1141.80" y2="317.24" stroke="#000" stroke-width="0.8"/>
<line x1="1138.6" y1="306.20" x2="1144.10" y2="306.20" stroke="#000" stroke-width="1.1"/>
<line x1="1138.6" y1="295.16" x2="1141.80" y2="295.16" stroke="#000" stroke-width="0.8"/>
<line x1="1138.6" y1="284.12" x2="1141.80" y2="284.12" stroke="#000" stroke-width="0.8"/>
<line x1="1138.6" y1="273.08" x2="1141.80" y2="273.08" stroke="#000" stroke-width="0.8"/>
<line x1="1138.6" y1="262.04" x2="1141.80" y2="262.04" stroke="#000" stroke-width="0.8"/>
<line x1="1138.6" y1="251.00" x2="1144.10" y2="251.00" stroke="#000" stroke-width="1.1"/>
<line x1="1138.6" y1="239.96" x2="1141.80" y2="239.96" stroke="#000" stroke-width="0.8"/>
<line x1="1138.6" y1="228.92" x2="1141.80" y2="228.92" stroke="#000" stroke-width="0.8"/>
<line x1="1138.6" y1="217.88" x2="1141.80" y2="217.88" stroke="#000" stroke-width="0.8"/>
<line x1="1138.6" y1="206.84" x2="1141.80" y2="206.84" stroke="#000" stroke-width="0.8"/>
<line x1="1138.6" y1="195.80" x2="1144.10" y2="195.80" stroke="#000" stroke-width="1.1"/>
<line x1="1138.6" y1="184.76" x2="1141.80" y2="184.76" stroke="#000" stroke-width="0.8"/>
<line x1="1138.6" y1="173.72" x2="1141.80" y2="173.72" stroke="#000" stroke-width="0.8"/>
<line x1="1138.6" y1="162.68" x2="1141.80" y2="162.68" stroke="#000" stroke-width="0.8"/>
<line x1="1138.6" y1="151.64" x2="1141.80" y2="151.64" stroke="#000" stroke-width="0.8"/>
<line x1="1138.6" y1="140.60" x2="1144.10" y2="140.60" stroke="#000" stroke-width="1.1"/>
<line x1="1138.6" y1="129.56" x2="1141.80" y2="129.56" stroke="#000" stroke-width="0.8"/>
<line x1="1138.6" y1="118.52" x2="1141.80" y2="118.52" stroke="#000" stroke-width="0.8"/>
<line x1="1138.6" y1="107.48" x2="1141.80" y2="107.48" stroke="#000" stroke-width="0.8"/>
<line x1="1138.6" y1="96.44" x2="1141.80" y2="96.44" stroke="#000" stroke-width="0.8"/>
<line x1="1138.6" y1="85.40" x2="1144.10" y2="85.40" stroke="#000" stroke-width="1.1"/>
<line x1="1138.6" y1="74.36" x2="1141.80" y2="74.36" stroke="#000" stroke-width="0.8"/>
<line x1="1138.6" y1="63.32" x2="1141.80" y2="63.32" stroke="#000" stroke-width="0.8"/>
<line x1="1138.6" y1="52.28" x2="1141.80" y2="52.28" stroke="#000" stroke-width="0.8"/>
<line x1="1138.6" y1="41.24" x2="1141.80" y2="41.24" stroke="#000" stroke-width="0.8"/>
<text x="1160.7" y="87.80" font-size="10.8" fill="#444" textLength="43.3" lengthAdjust="spacingAndGlyphs">125.00 k</text>
<text x="1160.7" y="143.00" font-size="10.8" fill="#444" textLength="43.3" lengthAdjust="spacingAndGlyphs">120.00 k</text>
<text x="1160.7" y="198.20" font-size="10.8" fill="#444" textLength="43.3" lengthAdjust="spacingAndGlyphs">115.00 k</text>
<text x="1160.7" y="253.40" font-size="10.8" fill="#444" textLength="43.3" lengthAdjust="spacingAndGlyphs">110.00 k</text>
<text x="1160.7" y="308.60" font-size="10.8" fill="#444" textLength="43.3" lengthAdjust="spacingAndGlyphs">105.00 k</text>
<text transform="translate(1214.6,193.6) rotate(90)" text-anchor="middle" font-size="12.6" font-style="italic" fill="#444" textLength="78" lengthAdjust="spacingAndGlyphs">Price (USDT)</text>
<rect x="9.8" y="60.4" width="21.4" height="282.6" fill="url(#cb)" stroke="#111" stroke-width="1"/>
<line x1="27" y1="107.30" x2="31" y2="107.30" stroke="#400" stroke-width="1"/>
<text x="28.5" y="110.70" font-size="10.8" fill="#444" textLength="47" lengthAdjust="spacingAndGlyphs">50.000 M</text>
<line x1="27" y1="161.60" x2="31" y2="161.60" stroke="#400" stroke-width="1"/>
<text x="28.5" y="165.00" font-size="10.8" fill="#444" textLength="47" lengthAdjust="spacingAndGlyphs">40.000 M</text>
<line x1="27" y1="215.90" x2="31" y2="215.90" stroke="#400" stroke-width="1"/>
<text x="28.5" y="219.30" font-size="10.8" fill="#444" textLength="47" lengthAdjust="spacingAndGlyphs">30.000 M</text>
<line x1="27" y1="270.20" x2="31" y2="270.20" stroke="#400" stroke-width="1"/>
<text x="28.5" y="273.60" font-size="10.8" fill="#444" textLength="47" lengthAdjust="spacingAndGlyphs">20.000 M</text>
<line x1="27" y1="324.50" x2="31" y2="324.50" stroke="#400" stroke-width="1"/>
<text x="28.5" y="327.90" font-size="10.8" fill="#444" textLength="47" lengthAdjust="spacingAndGlyphs">10.000 M</text>
<text x="10.5" y="55.9" font-size="12.6" font-style="italic" fill="#444" textLength="68.3" lengthAdjust="spacingAndGlyphs">Vol. (USDT)</text>
<line x1="107.6" y1="676.50" x2="1138.6" y2="676.50" stroke="#e4e4e4" stroke-width="1"/>
<line x1="107.6" y1="615.05" x2="1138.6" y2="615.05" stroke="#e4e4e4" stroke-width="1"/>
<line x1="107.6" y1="553.60" x2="1138.6" y2="553.60" stroke="#e4e4e4" stroke-width="1"/>
<line x1="107.6" y1="492.15" x2="1138.6" y2="492.15" stroke="#e4e4e4" stroke-width="1"/>
<line x1="107.6" y1="430.70" x2="1138.6" y2="430.70" stroke="#e4e4e4" stroke-width="1"/>
<line x1="107.6" y1="369.25" x2="1138.6" y2="369.25" stroke="#e4e4e4" stroke-width="1"/>
<line x1="308.0" y1="369.25" x2="308.0" y2="676.50" stroke="#e4e4e4" stroke-width="1"/>
<line x1="527.3" y1="369.25" x2="527.3" y2="676.50" stroke="#e4e4e4" stroke-width="1"/>
<line x1="746.5" y1="369.25" x2="746.5" y2="676.50" stroke="#e4e4e4" stroke-width="1"/>
<line x1="965.5" y1="369.25" x2="965.5" y2="676.50" stroke="#e4e4e4" stroke-width="1"/>
<line x1="1138.6" y1="369.25" x2="1138.6" y2="676.50" stroke="#e4e4e4" stroke-width="1"/>
<g class="sans" fill="#cbcbcb">
<text transform="translate(371.4,582.4) scale(1.1,1)" font-size="33.5" font-weight="bold" stroke="#cbcbcb" stroke-width="0.8" textLength="457" lengthAdjust="spacing">MATERIAL INDICATORS</text>
<text x="445.7" y="618.3" font-size="22.3" textLength="355" lengthAdjust="spacing">THE SCIENCE OF TRADING</text>
<rect x="372" y="609.9" width="66" height="1.6"/><rect x="807" y="609.9" width="67" height="1.6"/>
</g>
<path d="M585.3,528.5 L585.8,522 L597,502 Q601.5,496.5 606,501 Q614,510.5 624,510.3 Q631,509 636.5,497 L661,528.5 Z" fill="#d9edf0"/>
<path d="M609.7,432.2 L636.7,432.2 M612,432.2 L612,463 L580.5,521 Q576,533.4 588,533.4 L659,533.4 Q671,533.4 666.5,521 L634.6,463 L634.6,432.2" fill="none" stroke="#cbcbcb" stroke-width="4.6" stroke-linejoin="round" stroke-linecap="round"/>
<g clip-path="url(#pc)" fill="none" stroke-width="1.65" stroke-linejoin="round" stroke-linecap="round">
<path d="M108.0,397.5 L112.5,399.5 L120.0,400.5 L125.0,400.0 L131.2,400.0 L135.0,402.5 L140.0,406.2 L145.0,408.2 L152.5,408.8 L160.0,408.8 L165.0,409.2 L168.0,406.2 L170.0,396.2 L172.5,395.0 L175.0,385.0 L178.0,380.0 L181.2,381.2 L183.8,385.0 L187.5,390.0 L191.2,394.5 L196.2,394.2 L200.0,393.0 L203.8,391.2 L207.5,392.0 L212.5,391.2 L217.5,393.0 L219.0,388.8 L222.5,389.5 L227.5,388.8 L232.5,387.0 L237.5,385.0 L242.5,385.5 L247.5,387.0 L251.2,390.0 L255.0,390.5 L260.0,393.8 L263.8,388.8 L268.8,387.0 L270.5,380.0 L273.8,378.8 L278.8,380.0 L283.8,380.8 L287.5,376.2 L291.2,377.5 L293.0,372.0 L297.5,373.8 L302.5,377.0 L308.8,378.8 L313.8,377.5 L320.0,379.5 L322.5,379.5 L327.5,382.0 L331.2,387.5 L335.0,390.0 L340.0,388.8 L345.0,387.5 L350.0,388.8 L353.8,392.5 L357.5,398.8 L361.2,405.0 L363.8,409.5 L367.5,407.5 L371.2,405.0 L375.0,405.0 L380.0,407.0 L385.0,408.0 L390.0,408.8 L395.0,412.0 L398.8,414.5 L401.2,415.0 L403.8,408.8 L406.2,404.5 L410.0,402.0 L415.0,401.2 L420.0,400.0 L425.0,396.2 L430.0,394.5 L435.0,390.0 L440.0,388.8 L445.0,388.8 L450.0,389.5 L455.0,391.2 L460.0,393.8 L463.8,395.0 L468.8,393.0 L473.8,394.5 L478.8,396.2 L483.8,395.0 L488.8,396.2 L491.2,393.8 L493.0,390.0 L496.2,393.8 L498.8,399.5 L502.5,402.5 L506.2,406.2 L510.0,411.2 L513.8,415.8 L517.5,417.5 L521.2,413.8 L525.0,411.2 L528.8,410.5 L533.8,412.0 L538.8,413.8 L545.0,415.0 L548.8,416.2 L551.2,422.0 L556.2,421.2 L561.2,420.5 L565.0,422.0 L568.8,418.8 L571.2,421.2 L575.0,426.2 L578.8,431.2 L582.5,436.2 L586.2,441.2 L590.0,442.5 L593.8,447.5 L597.5,444.5 L601.2,449.5 L605.0,452.5 L608.8,460.0 L611.2,465.0 L615.0,467.5 L620.0,468.8 L623.8,482.5 L628.8,490.0 L633.8,495.0 L638.8,498.8 L643.8,505.0 L648.8,509.5 L653.8,512.5 L658.8,515.5 L663.8,521.2 L668.8,523.8 L673.8,527.5 L677.5,526.2 L682.5,522.5 L687.5,521.2 L693.8,519.5 L700.0,517.5 L705.0,515.0 L708.8,510.0 L711.2,507.5 L713.8,512.5 L716.2,515.0 L718.8,507.5 L722.5,501.2 L727.5,498.8 L732.5,497.5 L736.2,496.2 L740.0,498.8 L743.8,501.2 L747.5,497.5 L751.2,494.5 L755.0,496.2 L758.8,500.0 L762.5,506.2 L766.2,508.8 L770.0,507.5 L773.8,511.2 L777.5,515.0 L781.2,518.8 L785.0,522.5 L790.0,526.2 L793.8,527.5 L797.5,525.0 L802.5,522.5 L807.5,520.0 L812.5,519.5 L816.2,521.2 L820.0,525.0 L823.8,530.0 L827.5,535.0 L832.5,538.8 L837.5,543.8 L842.5,546.2 L846.2,547.5 L850.0,551.2 L855.0,553.8 L860.0,556.2 L863.8,550.0 L867.5,545.0 L872.5,543.8 L876.2,542.0 L881.2,543.8 L886.2,545.0 L891.2,548.8 L895.0,556.2 L900.0,560.0 L905.0,566.2 L910.0,568.8 L913.8,568.0 L917.5,563.8 L920.0,565.0 L921.2,565.5 L925.0,567.0 L928.8,570.5 L933.8,574.5 L938.8,577.0 L943.8,580.0 L948.8,578.8 L953.8,581.2 L958.8,583.0 L963.8,585.0 L967.5,588.8 L972.5,589.5 L977.5,588.0 L982.5,589.5 L987.5,591.2 L991.2,595.0 L995.0,601.2 L998.8,605.5 L1002.5,607.5 L1006.2,610.5 L1011.2,613.8 L1016.2,617.0 L1021.2,618.8 L1026.2,621.2 L1031.2,623.2 L1036.2,624.2 L1041.2,623.2 L1046.2,622.0 L1051.2,620.0 L1055.0,621.2 L1057.5,626.2 L1060.0,633.8 L1062.5,640.0 L1065.0,645.0 L1067.5,651.2 L1070.0,657.5 L1072.5,655.0 L1076.2,653.8 L1080.0,652.5 L1085.0,653.0 L1090.0,652.5 L1095.0,650.5 L1100.0,649.5 L1105.0,650.0 L1110.0,652.5 L1115.0,654.5 L1118.8,657.0 L1122.5,660.0 L1126.2,662.5 L1130.0,664.5 L1133.8,665.5 L1136.2,664.5 L1137.5,666.2" stroke="#1f77b4"/>
<path d="M108.0,390.0 L111.2,388.8 L115.0,390.5 L120.0,393.8 L122.5,397.5 L125.0,401.2 L126.2,406.2 L130.0,410.0 L135.0,415.0 L138.8,420.0 L143.8,422.0 L147.5,422.5 L151.2,421.2 L156.2,423.0 L160.0,423.8 L165.0,420.5 L168.0,419.5 L170.5,420.5 L172.0,412.5 L173.8,400.0 L175.0,388.8 L177.5,385.0 L181.2,383.8 L185.0,378.8 L187.5,380.0 L189.5,387.5 L192.5,390.0 L197.5,386.2 L202.5,383.0 L207.5,380.0 L212.5,378.8 L217.5,380.5 L219.5,390.0 L222.5,393.8 L227.5,392.0 L232.5,387.5 L236.2,383.8 L238.8,380.0 L242.5,376.2 L247.5,374.5 L252.5,373.0 L257.5,373.8 L261.2,372.0 L265.0,374.5 L270.0,378.8 L275.0,377.5 L278.8,373.8 L282.5,370.0 L286.2,372.5 L290.0,373.8 L292.5,380.0 L296.2,385.0 L300.0,388.8 L303.8,392.5 L308.8,396.2 L313.8,400.0 L317.5,401.2 L320.0,400.5 L325.0,397.5 L328.8,403.8 L332.5,408.8 L337.5,410.5 L342.5,412.0 L345.0,413.8 L348.8,420.0 L353.8,425.0 L358.8,430.0 L362.5,436.2 L364.5,443.8 L366.2,442.5 L367.5,417.5 L368.8,402.5 L372.5,400.0 L377.5,403.8 L382.5,411.2 L387.5,413.8 L392.5,420.0 L396.2,423.8 L400.0,427.5 L405.0,426.2 L408.8,420.0 L411.2,430.0 L415.0,432.5 L418.8,442.5 L421.2,451.2 L423.8,456.2 L427.5,458.0 L432.5,455.0 L436.2,452.5 L440.0,455.0 L443.8,456.2 L447.5,452.5 L451.2,450.5 L455.0,453.8 L458.8,458.8 L462.5,462.5 L467.5,463.0 L472.5,462.0 L477.5,461.2 L479.5,468.8 L482.5,472.5 L486.2,473.8 L490.0,477.5 L493.0,481.2 L495.0,490.0 L497.5,497.5 L501.2,499.5 L505.0,498.0 L508.8,498.8 L512.5,501.2 L515.0,506.2 L517.5,512.5 L521.2,513.8 L522.0,530.0 L523.0,540.0 L524.5,565.0 L526.2,592.5 L528.0,597.5 L530.0,608.8 L532.5,627.5 L535.0,626.2 L538.0,616.2 L540.0,613.8 L542.5,618.8 L545.5,616.2 L548.8,621.2 L552.5,618.8 L556.2,622.5 L560.0,628.0 L563.8,627.5 L567.5,626.2 L571.2,631.2 L574.5,637.5 L577.5,630.0 L580.0,621.2 L582.5,615.0 L585.0,617.5 L588.0,613.8 L590.0,625.0 L592.5,627.5 L595.5,627.5 L597.5,635.0 L600.0,642.5 L603.8,647.5 L607.5,656.2 L610.0,665.0 L612.5,675.0 L615.0,667.5 L618.8,663.8 L621.2,665.0 L623.2,671.2 L625.0,660.0 L627.5,652.5 L630.0,647.5 L633.8,647.5 L637.5,642.5 L641.2,636.2 L645.0,630.0 L650.0,625.0 L653.8,618.8 L657.5,615.5 L660.5,621.2 L663.8,630.0 L667.0,625.0 L671.2,620.0 L675.0,618.8 L680.0,617.5 L683.8,620.0 L687.5,621.2 L691.2,617.5 L695.0,613.8 L698.8,608.8 L702.5,605.0 L706.2,600.0 L710.0,596.2 L713.8,597.5 L716.2,601.2 L718.8,590.0 L721.2,577.5 L723.8,575.0 L726.2,567.5 L730.0,557.5 L733.8,547.5 L735.0,546.2 L738.8,551.2 L742.5,552.5 L746.2,551.2 L750.0,546.2 L753.8,543.8 L757.5,544.5 L761.2,541.2 L765.0,536.2 L768.8,532.5 L772.5,535.5 L776.2,532.5 L780.0,535.0 L783.8,531.2 L788.8,527.5 L793.8,526.2 L797.5,520.0 L801.2,515.0 L805.0,511.2 L808.8,509.5 L812.5,508.8 L816.2,510.0 L820.0,509.5 L823.8,507.5 L827.5,511.2 L831.2,512.5 L835.0,515.0 L838.8,517.5 L841.2,516.2 L843.8,510.0 L847.5,505.0 L850.0,503.8 L852.5,498.8 L854.5,506.2 L856.2,500.0 L858.8,490.0 L861.2,480.0 L863.8,467.5 L866.2,456.2 L868.8,453.8 L872.5,452.5 L876.2,450.0 L878.8,455.0 L882.5,455.5 L886.2,457.5 L890.0,461.2 L893.8,467.0 L897.5,471.2 L901.2,475.0 L905.0,478.8 L908.8,475.0 L912.5,477.5 L916.2,482.0 L920.0,485.0 L923.8,485.0 L927.5,482.0 L931.2,483.8 L935.0,484.5 L938.8,485.5 L942.5,488.8 L946.2,490.5 L950.0,492.5 L953.8,497.5 L957.5,503.8 L961.2,508.0 L965.0,510.0 L968.8,512.5 L972.5,514.5 L976.2,518.0 L980.0,521.2 L983.8,524.5 L987.5,527.5 L990.0,530.5 L992.5,529.5 L995.0,535.0 L998.8,536.2 L1002.5,533.8 L1006.2,536.2 L1008.8,543.8 L1011.2,548.0 L1014.5,548.8 L1016.2,542.5 L1018.8,538.8 L1022.5,536.2 L1026.2,535.0 L1030.0,532.0 L1033.8,531.2 L1037.5,528.8 L1041.2,524.5 L1045.0,522.0 L1048.8,520.0 L1052.5,521.2 L1056.2,525.0 L1058.0,530.0 L1059.5,531.2 L1061.2,545.0 L1062.5,562.5 L1063.8,578.8 L1067.0,582.5 L1069.5,587.0 L1071.2,583.0 L1073.0,587.0 L1075.0,581.2 L1077.5,577.5 L1080.0,572.5 L1083.8,570.5 L1086.2,575.0 L1090.0,573.8 L1093.8,572.0 L1097.5,570.5 L1101.2,572.0 L1105.0,568.0 L1108.8,572.5 L1111.2,574.5 L1115.0,566.2 L1118.8,569.5 L1122.5,568.0 L1126.2,565.5 L1130.0,562.0 L1132.5,555.5 L1135.0,543.8 L1137.0,535.0" stroke="#ff7f0e"/>
<path d="M108.0,395.5 L112.5,398.0 L118.8,400.5 L125.0,402.5 L130.0,404.5 L135.0,407.0 L140.0,404.5 L145.0,403.8 L152.5,403.8 L160.0,404.2 L166.2,404.2 L168.8,401.2 L170.0,388.8 L172.5,386.2 L175.0,384.5 L176.5,370.5 L180.0,370.0 L183.8,371.2 L187.5,373.0 L190.0,375.0 L192.5,378.8 L197.5,380.0 L202.5,381.2 L207.5,383.8 L212.5,385.5 L217.5,386.2 L222.5,387.5 L227.5,388.8 L232.5,387.0 L237.5,385.0 L242.5,385.5 L247.5,387.5 L251.2,392.5 L256.2,396.2 L260.0,400.0 L265.0,402.5 L270.0,403.2 L275.0,402.5 L280.0,405.0 L283.8,403.8 L287.5,398.8 L291.2,392.5 L293.8,391.2 L297.5,393.8 L302.5,394.2 L307.5,395.0 L312.5,393.0 L316.2,390.0 L320.0,391.2 L325.0,391.2 L328.8,393.8 L332.5,392.0 L337.5,390.5 L342.5,390.5 L346.2,390.8 L348.8,393.8 L352.5,397.5 L356.2,402.5 L358.8,412.5 L361.2,422.5 L363.8,431.2 L366.2,437.5 L370.0,442.5 L373.8,448.8 L377.5,453.0 L382.5,457.5 L387.5,461.2 L391.2,466.2 L395.0,470.5 L400.0,472.5 L405.0,472.5 L410.0,472.0 L415.0,471.2 L420.0,473.8 L425.0,475.5 L430.0,472.5 L435.0,469.5 L440.0,471.2 L445.0,475.0 L450.0,476.8 L455.0,478.0 L460.0,480.0 L463.8,482.0 L468.8,480.0 L473.8,480.0 L477.5,477.5 L482.5,479.5 L487.5,481.2 L491.2,483.0 L493.8,487.5 L496.2,496.2 L498.8,503.8 L502.5,508.0 L506.2,511.2 L511.2,512.0 L515.0,514.5 L520.0,515.0 L525.0,513.8 L530.0,513.2 L535.0,516.2 L540.0,521.2 L545.0,525.0 L550.0,528.8 L555.0,530.8 L561.2,532.0 L567.5,533.0 L570.0,535.0 L573.8,541.2 L577.5,545.0 L581.2,550.0 L585.0,554.5 L588.8,557.0 L591.2,562.5 L595.0,564.5 L597.0,566.2 L598.8,557.5 L599.5,566.2 L602.5,567.5 L606.2,573.8 L610.0,580.0 L613.8,585.5 L617.5,590.0 L621.2,595.0 L624.5,600.0 L627.5,600.5 L631.2,605.0 L635.0,611.2 L638.8,617.5 L642.5,625.0 L646.2,631.2 L650.0,635.5 L655.0,638.0 L658.8,640.0 L662.0,646.2 L664.2,650.5 L667.5,648.8 L671.2,647.5 L675.0,650.0 L678.8,648.8 L682.5,644.5 L686.2,642.5 L691.2,641.2 L695.0,637.5 L698.8,635.0 L702.5,631.2 L706.2,628.8 L708.0,615.0 L708.8,602.5 L711.2,601.2 L713.8,602.5 L715.5,608.8 L718.8,605.0 L721.2,600.0 L725.0,598.8 L730.0,597.5 L735.0,593.8 L738.8,593.0 L742.5,595.0 L746.2,592.5 L750.0,590.0 L753.8,591.2 L757.5,593.8 L761.2,597.5 L765.0,596.2 L768.8,595.5 L772.5,598.8 L776.2,602.5 L780.0,606.2 L783.8,603.8 L787.5,601.2 L791.2,602.5 L795.0,600.0 L800.0,599.5 L801.7,597.5 L805.0,594.7 L809.2,593.7 L813.3,593.0 L815.8,594.2 L819.2,596.7 L822.5,598.3 L825.8,600.8 L828.3,604.2 L831.7,605.0 L834.2,606.7 L835.8,610.0 L838.3,611.7 L840.8,615.8 L843.3,616.7 L846.7,615.8 L849.2,618.3 L851.7,622.5 L854.2,626.7 L856.7,630.8 L859.2,634.2 L861.7,635.0 L864.2,633.3 L865.8,628.3 L867.5,627.5 L870.0,629.2 L872.5,628.7 L874.2,626.7 L877.5,627.0 L879.2,630.0 L881.7,632.0 L884.2,633.3 L887.5,633.7 L890.8,635.8 L894.2,638.3 L896.7,640.0 L900.0,640.3 L902.5,642.5 L904.2,645.0 L905.8,648.0 L907.5,649.2 L910.0,648.0 L912.5,649.2 L915.0,650.8 L917.5,648.3 L920.0,648.0 L922.5,646.3 L925.8,646.3 L929.2,646.7 L932.5,647.0 L935.0,645.0 L937.5,642.5 L940.0,641.3 L943.0,642.0 L946.2,643.8 L950.0,643.8 L953.8,646.2 L958.8,649.5 L963.8,652.0 L967.5,652.5 L972.5,650.0 L977.5,648.8 L981.2,651.2 L985.0,653.8 L988.8,657.5 L993.8,660.0 L998.8,658.8 L1002.5,655.0 L1005.0,655.5 L1008.8,661.2 L1013.8,662.0 L1018.8,661.2 L1023.8,662.5 L1028.8,663.8 L1033.8,664.2 L1038.8,663.0 L1043.8,662.5 L1048.8,661.8 L1053.8,663.0 L1057.5,665.0 L1061.2,668.8 L1063.8,673.8 L1066.2,676.2 L1068.8,672.5 L1071.2,666.2 L1073.8,660.5 L1077.5,662.0 L1081.2,660.5 L1086.2,657.5 L1091.2,655.0 L1096.2,653.8 L1101.2,655.0 L1105.0,657.0 L1110.0,661.2 L1115.0,662.5 L1118.8,665.0 L1122.5,667.5 L1126.2,668.0 L1131.2,667.0 L1135.0,666.2 L1137.5,664.5" stroke="#2ca02c"/>
<path d="M108.0,380.8 L115.0,381.2 L125.0,382.0 L135.0,383.8 L140.0,386.2 L146.2,388.2 L155.0,388.0 L165.0,388.2 L168.8,387.0 L170.0,382.0 L175.0,380.8 L176.5,370.0 L180.0,370.0 L183.8,372.0 L187.5,375.5 L192.5,378.8 L197.5,380.0 L201.2,380.0 L203.0,377.5 L207.5,379.5 L212.5,380.8 L217.5,381.2 L222.5,382.5 L230.0,382.5 L236.2,382.5 L241.2,383.0 L247.5,384.5 L252.5,386.2 L256.2,387.5 L260.0,392.5 L263.8,390.0 L268.8,388.2 L270.5,380.0 L272.5,378.0 L277.5,380.0 L283.8,380.5 L287.5,374.5 L291.2,377.0 L292.5,371.2 L297.5,373.0 L303.8,374.5 L310.0,376.2 L316.2,377.5 L320.0,378.8 L322.5,378.8 L327.5,380.0 L331.2,385.0 L335.0,387.0 L340.0,385.8 L346.2,384.5 L350.0,385.0 L353.8,387.5 L357.5,391.2 L362.5,395.0 L367.5,392.5 L372.5,391.2 L377.5,392.0 L382.5,393.8 L386.2,394.5 L391.2,393.8 L396.2,394.5 L400.0,395.5 L403.8,392.5 L407.5,387.5 L412.5,385.5 L420.0,383.0 L427.5,381.2 L435.0,379.5 L442.5,378.8 L450.0,379.2 L457.5,380.8 L462.5,382.0 L470.0,380.0 L475.0,380.5 L480.0,381.2 L486.2,380.0 L490.0,378.8 L493.8,377.5 L497.5,380.0 L500.0,384.5 L505.0,387.0 L508.8,391.2 L512.5,398.8 L516.2,405.0 L520.0,407.0 L523.8,403.8 L527.5,402.0 L532.5,402.5 L537.5,403.2 L543.8,404.5 L548.8,406.2 L550.5,415.0 L555.0,416.2 L560.0,415.0 L565.0,416.2 L570.0,417.5 L575.0,420.5 L580.0,422.0 L585.0,425.0 L590.0,428.0 L595.0,428.8 L600.0,429.5 L603.8,430.5 L606.2,432.5 L610.0,437.5 L615.0,436.2 L620.0,437.0 L621.2,445.0 L625.0,455.0 L628.8,463.8 L631.2,468.8 L635.0,471.2 L640.0,472.5 L645.0,475.0 L650.0,475.0 L656.2,477.5 L662.5,481.2 L668.8,483.8 L675.0,488.0 L680.0,486.2 L686.2,485.0 L692.5,485.0 L698.8,484.5 L705.0,483.8 L711.2,485.0 L715.0,487.5 L720.0,488.0 L723.8,483.8 L728.8,481.2 L733.8,481.2 L737.5,485.0 L741.2,488.8 L745.0,490.5 L748.8,487.5 L753.8,487.0 L758.8,488.0 L762.5,490.0 L766.2,489.5 L770.0,488.0 L772.5,490.0 L775.0,498.8 L778.8,507.5 L782.5,510.0 L786.2,513.8 L790.0,515.0 L795.0,517.0 L800.0,515.0 L805.0,513.0 L810.0,512.0 L815.0,512.5 L818.8,515.5 L822.5,521.2 L826.2,526.2 L831.2,531.2 L836.2,535.0 L841.2,537.5 L846.2,540.0 L851.2,542.5 L856.2,543.2 L861.2,542.5 L865.0,538.8 L868.8,535.0 L873.8,533.8 L877.5,531.2 L882.5,532.5 L887.5,533.8 L891.2,537.5 L895.0,545.0 L898.8,550.0 L903.8,552.0 L908.8,553.0 L913.8,552.0 L917.5,548.8 L920.0,550.0 L923.8,548.8 L928.8,551.2 L932.5,557.5 L937.5,562.5 L942.5,565.0 L947.5,567.0 L953.8,568.0 L960.0,570.0 L965.0,572.5 L968.8,578.0 L975.0,578.8 L982.5,579.5 L988.8,578.8 L991.2,582.5 L995.0,590.0 L998.8,598.0 L1002.5,600.5 L1007.5,602.0 L1012.5,604.5 L1017.5,608.0 L1022.5,609.5 L1027.5,611.2 L1032.5,613.0 L1037.5,613.2 L1043.8,612.0 L1050.0,610.5 L1055.0,611.2 L1057.5,613.0 L1060.0,615.0 L1062.5,613.8 L1065.0,620.0 L1067.5,625.0 L1070.0,634.5 L1073.8,636.2 L1078.8,637.5 L1083.8,638.8 L1088.8,638.0 L1093.8,638.8 L1098.8,638.0 L1103.8,638.8 L1108.8,640.5 L1113.8,642.5 L1117.5,644.5 L1120.0,648.8 L1123.8,656.2 L1127.5,658.8 L1131.2,660.0 L1133.8,660.5 L1136.2,672.5 L1137.5,676.5" stroke="#d62728"/>
<path d="M108.0,481.2 L111.2,484.5 L115.0,482.5 L120.0,482.0 L125.0,481.2 L130.0,479.5 L133.8,481.2 L136.2,486.2 L138.8,493.8 L142.5,500.0 L146.2,504.5 L148.8,501.2 L152.5,503.2 L157.5,503.8 L162.5,503.2 L165.0,505.0 L167.5,500.0 L169.5,485.0 L171.2,483.8 L172.5,488.8 L175.0,486.2 L176.5,478.8 L178.8,478.2 L181.2,482.5 L183.8,486.2 L186.2,495.0 L188.8,500.0 L190.5,508.0 L192.5,505.0 L195.0,501.2 L197.5,498.0 L201.2,498.0 L203.8,495.0 L206.2,493.8 L208.8,488.8 L211.2,490.0 L213.8,491.2 L217.0,495.0 L218.0,475.0 L220.0,471.2 L223.8,472.5 L226.2,468.8 L230.0,466.2 L233.8,463.8 L236.2,461.2 L240.0,460.0 L243.8,458.8 L247.5,458.8 L250.0,462.5 L253.8,463.8 L256.2,462.0 L260.0,463.0 L262.5,455.0 L263.8,441.2 L266.2,437.5 L270.0,435.5 L272.5,443.8 L275.0,442.5 L277.5,434.5 L281.2,433.8 L285.0,438.0 L288.8,439.5 L291.2,441.2 L293.8,432.5 L297.5,435.0 L300.0,441.2 L303.8,442.5 L306.2,446.2 L310.0,441.2 L312.5,440.5 L316.2,446.2 L320.0,450.0 L322.5,451.2 L326.2,455.0 L328.8,460.0 L331.2,465.0 L333.0,477.5 L335.0,471.2 L338.8,470.5 L342.5,471.2 L345.5,468.8 L347.5,460.0 L349.5,468.8 L352.5,475.0 L356.2,480.0 L358.8,486.2 L361.2,491.2 L363.8,495.5 L366.2,491.2 L368.8,485.0 L371.2,480.0 L375.0,477.5 L378.8,479.5 L381.2,482.5 L385.0,477.5 L388.8,472.5 L392.5,478.8 L396.2,481.2 L400.0,480.0 L403.0,485.0 L405.0,482.5 L406.2,455.0 L410.0,452.5 L413.8,447.5 L416.2,436.2 L418.8,435.0 L421.2,438.8 L423.8,427.5 L427.5,426.2 L431.2,422.5 L435.0,418.8 L437.5,405.0 L440.0,403.8 L443.8,407.5 L447.5,409.5 L452.5,407.5 L456.2,413.0 L460.0,417.5 L462.5,420.5 L466.2,415.0 L470.0,416.2 L473.8,421.2 L477.5,423.8 L482.5,422.5 L486.2,418.8 L490.0,421.2 L492.5,406.2 L495.0,405.0 L498.8,409.5 L501.2,412.5 L503.8,410.5 L506.2,422.0 L511.2,423.8 L515.0,422.5 L518.8,416.2 L522.5,411.2 L526.2,402.5 L530.0,401.2 L533.8,405.0 L537.5,402.5 L541.2,403.8 L545.0,401.2 L547.5,391.2 L551.2,392.5 L555.0,387.5 L560.0,387.0 L563.8,385.0 L566.2,386.2 L568.8,371.2 L571.2,370.0 L573.0,373.8 L575.0,385.0 L577.5,388.8 L580.0,400.0 L582.5,406.2 L586.2,415.0 L590.0,418.8 L592.5,425.0 L596.2,426.2 L600.0,428.8 L602.5,430.0 L605.0,441.2 L608.8,450.0 L611.2,465.0 L613.8,471.2 L616.2,475.0 L620.0,472.5 L622.5,480.0 L626.2,475.0 L630.0,473.8 L633.8,468.8 L636.2,465.0 L638.8,471.2 L642.5,480.0 L645.0,492.5 L648.8,500.0 L652.5,507.5 L656.2,512.5 L660.0,515.0 L663.8,523.8 L668.8,526.2 L672.5,528.8 L675.0,535.0 L677.5,527.5 L681.2,522.5 L685.0,517.5 L688.8,518.8 L692.5,515.0 L696.2,516.2 L700.0,515.0 L703.8,513.8 L707.5,510.0 L711.2,506.2 L713.8,510.0 L716.2,516.2 L718.8,500.0 L721.2,485.0 L725.0,482.5 L730.0,480.0 L733.8,472.5 L736.2,462.5 L740.0,461.2 L743.8,466.2 L747.5,461.2 L751.2,457.5 L753.8,458.8 L757.5,465.0 L761.2,471.2 L762.5,482.5 L763.8,500.0 L766.2,502.5 L770.0,501.2 L772.5,498.8 L775.0,496.2 L778.8,495.0 L782.5,496.2 L786.2,497.5 L788.8,503.8 L791.2,508.0 L795.0,507.5 L798.8,505.0 L802.5,502.5 L806.2,498.8 L810.0,497.0 L815.0,497.5 L818.8,501.2 L822.5,506.2 L826.2,510.0 L830.0,511.2 L833.8,510.0 L837.5,515.0 L841.2,520.0 L843.8,525.0 L846.2,522.5 L850.0,530.0 L852.0,533.8 L855.0,525.0 L857.5,530.0 L860.0,532.5 L862.5,523.8 L865.0,517.5 L867.5,511.2 L871.2,515.0 L875.0,516.2 L878.8,514.5 L882.5,515.5 L886.2,520.0 L890.0,521.2 L893.8,525.0 L897.5,523.8 L901.2,530.0 L903.8,540.0 L906.2,546.2 L910.0,550.0 L913.8,551.2 L917.5,547.5 L920.0,548.8 L923.0,556.2 L926.2,562.5 L930.0,565.0 L933.8,558.0 L937.0,560.0 L939.5,555.5 L943.0,562.0 L947.0,557.5 L951.2,553.0 L955.0,557.0 L958.8,558.8 L962.5,557.0 L966.2,560.0 L970.0,562.0 L973.8,560.0 L977.5,558.8 L981.2,561.2 L985.0,558.0 L988.8,563.8 L992.5,566.2 L996.2,565.0 L1000.0,568.8 L1003.8,567.5 L1006.2,572.5 L1008.8,577.5 L1012.5,583.8 L1016.2,581.2 L1020.0,586.2 L1023.8,591.2 L1027.5,595.0 L1031.2,598.0 L1036.2,599.5 L1040.0,598.8 L1043.8,596.2 L1047.5,594.5 L1051.2,593.8 L1055.0,595.5 L1057.0,605.0 L1058.8,622.5 L1060.5,645.0 L1062.5,662.5 L1064.5,673.8 L1066.2,676.2 L1068.0,670.0 L1070.0,665.0 L1072.5,658.8 L1075.0,654.5 L1078.8,655.5 L1082.5,659.5 L1086.2,656.2 L1090.0,653.8 L1093.8,652.0 L1097.5,648.8 L1102.5,647.5 L1107.5,646.2 L1112.5,647.0 L1117.5,647.5 L1120.0,637.5 L1122.5,635.0 L1125.0,637.0 L1128.8,642.5 L1131.2,646.2 L1135.0,647.0 L1137.5,648.8" stroke="#9467bd"/>
<path d="M108.0,676.5 L113.0,676.5 L114.0,673.0 L121.2,673.0 L122.5,658.0 L127.0,658.0 L128.0,651.2 L129.5,643.0 L135.0,643.0 L136.2,637.5 L138.0,627.5 L139.0,623.8 L140.0,628.8 L141.5,630.0 L142.5,635.5 L165.0,635.5 L166.2,616.2 L168.0,615.0 L169.5,587.5 L170.5,575.0 L173.0,574.5 L174.0,580.0 L175.8,580.0 L176.5,535.0 L176.5,515.0 L183.8,515.0 L184.2,540.5 L190.5,540.5 L191.5,534.5 L194.5,533.8 L195.5,527.5 L196.5,531.2 L198.0,533.0 L198.8,538.0 L200.0,530.0 L201.5,529.5 L202.5,512.5 L204.5,512.0 L205.5,495.0 L207.0,483.0 L210.0,482.5 L210.8,476.2 L212.0,483.8 L215.0,483.0 L225.0,483.0 L226.2,488.2 L233.0,488.2 L234.2,465.0 L235.5,461.2 L241.2,461.2 L242.5,467.5 L245.0,468.8 L246.2,463.0 L250.0,462.5 L250.8,451.2 L252.5,441.2 L263.8,441.2 L265.0,443.8 L271.2,443.8 L272.0,433.8 L273.0,448.8 L274.5,442.5 L276.2,437.5 L277.5,418.8 L278.8,420.0 L280.0,430.0 L282.0,425.0 L283.0,418.8 L285.0,423.8 L286.8,406.2 L288.0,418.8 L289.5,415.0 L291.2,425.5 L292.5,403.8 L297.5,403.2 L298.5,413.0 L320.0,413.0 L320.5,420.8 L328.0,420.8 L329.0,413.0 L332.0,413.0 L333.0,423.8 L335.0,423.0 L336.2,416.2 L343.8,415.0 L345.0,411.2 L346.2,390.0 L348.0,378.8 L350.0,376.2 L352.5,375.5 L353.8,370.0 L355.0,382.5 L358.0,385.0 L359.5,393.8 L361.2,398.8 L362.5,403.8 L363.8,395.0 L365.5,393.8 L373.8,393.8 L375.0,400.0 L380.0,400.8 L381.2,405.0 L385.0,405.0 L386.2,388.8 L396.2,388.0 L397.5,405.0 L399.5,408.8 L400.5,421.2 L402.5,413.8 L403.8,408.8 L406.2,407.5 L407.0,420.0 L411.2,420.0 L412.5,430.0 L413.8,450.0 L415.0,473.8 L420.0,475.0 L422.5,480.0 L430.0,480.5 L431.8,489.5 L433.8,483.8 L443.8,483.8 L444.5,460.0 L456.2,459.5 L457.5,467.5 L460.0,472.5 L465.0,472.5 L467.0,475.0 L470.0,479.5 L475.0,480.0 L476.2,485.0 L487.5,485.5 L488.8,491.2 L490.0,502.5 L491.2,508.0 L493.0,497.5 L495.0,491.2 L497.5,485.0 L500.0,478.8 L502.5,475.0 L503.8,480.0 L505.0,465.0 L507.5,462.5 L510.5,451.2 L513.8,450.0 L515.0,436.2 L520.0,435.5 L521.2,430.0 L523.0,423.8 L533.8,423.8 L535.0,432.5 L537.5,447.5 L547.5,448.0 L548.8,454.5 L556.2,454.5 L557.5,447.5 L571.2,447.5 L572.5,462.5 L573.8,472.5 L575.0,480.0 L577.0,475.0 L578.0,487.5 L579.5,497.5 L581.2,510.0 L582.5,525.0 L597.5,525.0 L598.2,527.5 L599.5,516.2 L602.5,515.0 L605.0,513.2 L607.0,520.0 L610.0,518.8 L611.2,504.5 L617.5,504.5 L618.8,515.0 L620.0,515.0 L621.2,530.0 L622.5,537.5 L627.5,538.2 L628.8,543.8 L631.2,533.8 L632.5,542.5 L636.2,536.2 L637.5,543.8 L640.0,558.8 L643.8,570.0 L646.2,574.5 L648.8,570.0 L660.0,569.5 L661.2,574.5 L673.8,574.5 L675.0,567.5 L677.0,558.8 L682.5,558.2 L683.8,553.0 L686.2,553.8 L687.5,558.2 L694.5,558.2 L695.5,537.5 L702.0,537.0 L703.0,530.0 L706.2,529.5 L707.5,523.8 L710.0,513.8 L712.0,507.5 L713.8,511.2 L715.0,532.5 L717.0,535.0 L718.0,500.0 L719.5,491.2 L723.8,490.5 L725.0,496.2 L732.5,496.2 L733.8,491.2 L736.2,496.2 L746.2,496.2 L747.5,487.5 L757.5,487.5 L758.8,496.2 L778.8,496.2 L780.0,487.5 L795.0,487.0 L796.2,481.2 L800.0,481.2 L801.2,487.5 L803.8,486.2 L805.0,475.0 L806.2,460.5 L827.5,460.0 L828.8,471.2 L831.2,472.5 L832.5,478.8 L835.0,472.5 L836.2,478.0 L841.2,477.5 L842.5,472.5 L845.0,473.0 L846.2,467.0 L848.8,467.5 L850.0,475.0 L852.5,474.5 L853.8,468.8 L858.8,469.5 L860.0,475.0 L862.5,482.5 L873.8,482.5 L875.0,473.8 L877.5,472.5 L878.8,461.2 L891.2,461.2 L893.0,455.0 L895.0,444.5 L896.2,451.2 L898.8,453.8 L901.2,456.2 L903.8,460.5 L908.8,461.2 L910.0,466.2 L912.0,465.5 L913.0,455.0 L917.5,454.5 L918.8,461.2 L920.0,461.2 L923.8,460.8 L925.0,455.0 L928.8,455.0 L930.0,460.8 L932.0,460.0 L933.0,455.0 L936.2,455.5 L937.5,465.0 L940.0,473.8 L942.0,477.5 L943.0,472.5 L943.8,477.0 L973.8,477.0 L975.0,467.5 L976.2,464.5 L986.2,464.5 L987.5,472.5 L992.5,473.0 L994.5,481.2 L1002.0,481.8 L1003.0,491.2 L1004.5,501.2 L1007.5,501.2 L1008.8,487.5 L1010.0,483.8 L1015.0,484.2 L1016.2,488.8 L1018.0,485.0 L1019.5,480.0 L1041.2,480.0 L1042.5,485.0 L1045.0,486.2 L1046.2,490.5 L1053.8,491.0 L1055.0,494.5 L1057.0,501.2 L1058.0,507.5 L1059.5,497.5 L1060.5,503.8 L1062.0,508.8 L1063.8,513.8 L1066.2,514.5 L1078.8,514.5 L1079.5,482.5 L1080.5,447.5 L1082.5,448.8 L1083.8,457.5 L1090.0,458.0 L1091.2,442.5 L1092.5,457.5 L1093.8,450.0 L1095.0,445.0 L1106.2,445.0 L1107.5,450.8 L1122.0,450.8 L1123.8,445.5 L1131.2,445.5 L1132.5,451.2 L1133.8,453.8 L1135.0,461.2 L1137.5,462.0" stroke="#8c564b"/>
</g>
<line x1="107.6" y1="368.75" x2="107.6" y2="677.10" stroke="#222" stroke-width="1.3"/>
<line x1="102.0" y1="676.50" x2="1138.6" y2="676.50" stroke="#222" stroke-width="1.3"/>
<line x1="102.0" y1="676.50" x2="107.6" y2="676.50" stroke="#222" stroke-width="1.2"/>
<line x1="104.4" y1="664.21" x2="107.6" y2="664.21" stroke="#222" stroke-width="0.9"/>
<line x1="104.4" y1="651.92" x2="107.6" y2="651.92" stroke="#222" stroke-width="0.9"/>
<line x1="104.4" y1="639.63" x2="107.6" y2="639.63" stroke="#222" stroke-width="0.9"/>
<line x1="104.4" y1="627.34" x2="107.6" y2="627.34" stroke="#222" stroke-width="0.9"/>
<line x1="102.0" y1="615.05" x2="107.6" y2="615.05" stroke="#222" stroke-width="1.2"/>
<line x1="104.4" y1="602.76" x2="107.6" y2="602.76" stroke="#222" stroke-width="0.9"/>
<line x1="104.4" y1="590.47" x2="107.6" y2="590.47" stroke="#222" stroke-width="0.9"/>
<line x1="104.4" y1="578.18" x2="107.6" y2="578.18" stroke="#222" stroke-width="0.9"/>
<line x1="104.4" y1="565.89" x2="107.6" y2="565.89" stroke="#222" stroke-width="0.9"/>
<line x1="102.0" y1="553.60" x2="107.6" y2="553.60" stroke="#222" stroke-width="1.2"/>
<line x1="104.4" y1="541.31" x2="107.6" y2="541.31" stroke="#222" stroke-width="0.9"/>
<line x1="104.4" y1="529.02" x2="107.6" y2="529.02" stroke="#222" stroke-width="0.9"/>
<line x1="104.4" y1="516.73" x2="107.6" y2="516.73" stroke="#222" stroke-width="0.9"/>
<line x1="104.4" y1="504.44" x2="107.6" y2="504.44" stroke="#222" stroke-width="0.9"/>
<line x1="102.0" y1="492.15" x2="107.6" y2="492.15" stroke="#222" stroke-width="1.2"/>
<line x1="104.4" y1="479.86" x2="107.6" y2="479.86" stroke="#222" stroke-width="0.9"/>
<line x1="104.4" y1="467.57" x2="107.6" y2="467.57" stroke="#222" stroke-width="0.9"/>
<line x1="104.4" y1="455.28" x2="107.6" y2="455.28" stroke="#222" stroke-width="0.9"/>
<line x1="104.4" y1="442.99" x2="107.6" y2="442.99" stroke="#222" stroke-width="0.9"/>
<line x1="102.0" y1="430.70" x2="107.6" y2="430.70" stroke="#222" stroke-width="1.2"/>
<line x1="104.4" y1="418.41" x2="107.6" y2="418.41" stroke="#222" stroke-width="0.9"/>
<line x1="104.4" y1="406.12" x2="107.6" y2="406.12" stroke="#222" stroke-width="0.9"/>
<line x1="104.4" y1="393.83" x2="107.6" y2="393.83" stroke="#222" stroke-width="0.9"/>
<line x1="104.4" y1="381.54" x2="107.6" y2="381.54" stroke="#222" stroke-width="0.9"/>
<line x1="102.0" y1="369.25" x2="107.6" y2="369.25" stroke="#222" stroke-width="1.2"/>
<line x1="308.0" y1="675.50" x2="308.0" y2="682.00" stroke="#222" stroke-width="1.2"/>
<line x1="527.3" y1="675.50" x2="527.3" y2="682.00" stroke="#222" stroke-width="1.2"/>
<line x1="746.5" y1="675.50" x2="746.5" y2="682.00" stroke="#222" stroke-width="1.2"/>
<line x1="965.5" y1="675.50" x2="965.5" y2="682.00" stroke="#222" stroke-width="1.2"/>
<text x="75.8" y="679.10" font-size="10.8" fill="#444" textLength="20.8" lengthAdjust="spacingAndGlyphs">0.00</text>
<text x="50.6" y="617.65" font-size="10.8" fill="#444" textLength="46.0" lengthAdjust="spacingAndGlyphs">200.00 m</text>
<text x="50.6" y="556.20" font-size="10.8" fill="#444" textLength="46.0" lengthAdjust="spacingAndGlyphs">400.00 m</text>
<text x="50.6" y="494.75" font-size="10.8" fill="#444" textLength="46.0" lengthAdjust="spacingAndGlyphs">600.00 m</text>
<text x="50.6" y="433.30" font-size="10.8" fill="#444" textLength="46.0" lengthAdjust="spacingAndGlyphs">800.00 m</text>
<text x="75.6" y="371.85" font-size="10.8" fill="#444" textLength="21.0" lengthAdjust="spacingAndGlyphs">1.00</text>
<text x="294.9" y="692.5" font-size="10.8" fill="#444" textLength="26.2" lengthAdjust="spacingAndGlyphs">10/07</text>
<text x="514.2" y="692.5" font-size="10.8" fill="#444" textLength="26.2" lengthAdjust="spacingAndGlyphs">10/10</text>
<text x="733.4" y="692.5" font-size="10.8" fill="#444" textLength="26.2" lengthAdjust="spacingAndGlyphs">10/13</text>
<text x="952.4" y="692.5" font-size="10.8" fill="#444" textLength="26.2" lengthAdjust="spacingAndGlyphs">10/16</text>
<text x="590" y="710.8" font-size="12.6" font-style="italic" fill="#444" textLength="67" lengthAdjust="spacingAndGlyphs">Date (UTC)</text>
<text transform="translate(28,522) rotate(-90)" text-anchor="middle" font-size="12.6" font-style="italic" fill="#444" textLength="118" lengthAdjust="spacingAndGlyphs">Norm. CVD (arb. u.)</text>
<rect x="1139.5" y="539" width="123.5" height="137" rx="2" fill="#fff" fill-opacity="0.8" stroke="#f1f1f1" stroke-width="1"/>
<line x1="1147" y1="556.60" x2="1165" y2="556.60" stroke="#1f77b4" stroke-width="2"/>
<text x="1169.5" y="561.00" font-size="14.2" fill="#444" textLength="55.5" lengthAdjust="spacingAndGlyphs">all orders</text>
<line x1="1147" y1="576.98" x2="1165" y2="576.98" stroke="#ff7f0e" stroke-width="2"/>
<text x="1169.5" y="581.38" font-size="14.2" fill="#444" textLength="69.5" lengthAdjust="spacingAndGlyphs">$100 to $1k</text>
<line x1="1147" y1="597.36" x2="1165" y2="597.36" stroke="#2ca02c" stroke-width="2"/>
<text x="1169.5" y="601.76" font-size="14.2" fill="#444" textLength="69.5" lengthAdjust="spacingAndGlyphs">$1k to $10k</text>
<line x1="1147" y1="617.74" x2="1165" y2="617.74" stroke="#d62728" stroke-width="2"/>
<text x="1169.5" y="622.14" font-size="14.2" fill="#444" textLength="83.8" lengthAdjust="spacingAndGlyphs">$10k to $100k</text>
<line x1="1147" y1="638.12" x2="1165" y2="638.12" stroke="#9467bd" stroke-width="2"/>
<text x="1169.5" y="642.52" font-size="14.2" fill="#444" textLength="81.0" lengthAdjust="spacingAndGlyphs">$100k to $1M</text>
<line x1="1147" y1="658.50" x2="1165" y2="658.50" stroke="#8c564b" stroke-width="2"/>
<text x="1169.5" y="662.90" font-size="14.2" fill="#444" textLength="78.5" lengthAdjust="spacingAndGlyphs">$1M to $10M</text>
</svg></body></html>
